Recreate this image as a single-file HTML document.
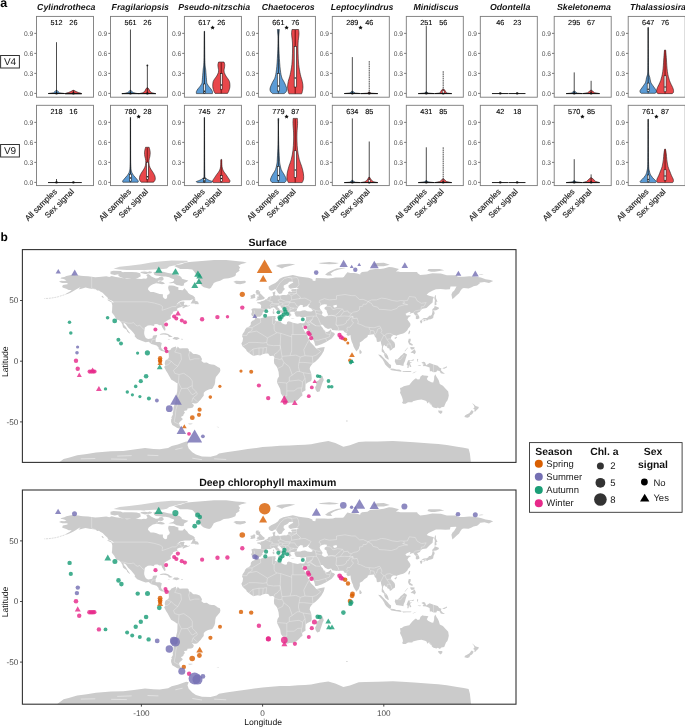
<!DOCTYPE html>
<html><head><meta charset="utf-8"><style>
html,body{margin:0;padding:0;background:#fff;width:685px;height:727px;overflow:hidden}
svg{display:block;will-change:transform;text-rendering:geometricPrecision;font-family:"Liberation Sans", sans-serif}
</style></head><body>
<svg width="685" height="727" viewBox="0 0 685 727">
<rect width="685" height="727" fill="#fff"/>
<text x="0.2" y="6.8" font-size="12.5" font-weight="bold" fill="#000">a</text>
<rect x="0.6" y="55.5" width="18.8" height="12.5" fill="#fff" stroke="#333" stroke-width="1"/>
<text x="10" y="64.8" font-size="10" text-anchor="middle" fill="#1a1a1a">V4</text>
<line x1="34.3" y1="93.40" x2="36.5" y2="93.40" stroke="#555" stroke-width="0.8"/>
<text x="33.3" y="95.80" font-size="6.7" text-anchor="end" fill="#555">0.0</text>
<line x1="34.3" y1="73.39" x2="36.5" y2="73.39" stroke="#555" stroke-width="0.8"/>
<text x="33.3" y="75.79" font-size="6.7" text-anchor="end" fill="#555">0.3</text>
<line x1="34.3" y1="53.38" x2="36.5" y2="53.38" stroke="#555" stroke-width="0.8"/>
<text x="33.3" y="55.78" font-size="6.7" text-anchor="end" fill="#555">0.6</text>
<line x1="34.3" y1="33.37" x2="36.5" y2="33.37" stroke="#555" stroke-width="0.8"/>
<text x="33.3" y="35.77" font-size="6.7" text-anchor="end" fill="#555">0.9</text>
<path d="M57.00,90.30 L58.00,91.50 L59.50,92.80 L64.70,93.50 L48.30,93.50 L53.50,92.80 L55.00,91.50 L56.00,90.30 Z" fill="#5b9bd5" stroke="#111" stroke-width="0.55" stroke-linejoin="round"/>
<line x1="48.30" y1="93.55" x2="64.70" y2="93.55" stroke="#111" stroke-width="0.95"/>
<line x1="56.50" y1="42.20" x2="56.50" y2="93.40" stroke="#111" stroke-width="0.75"/>
<ellipse cx="56.50" cy="93.40" rx="1.3" ry="1.1" fill="#111"/>
<path d="M73.90,90.30 L76.00,91.50 L78.40,92.50 L81.20,93.30 L81.70,94.00 L65.10,94.00 L65.60,93.30 L68.40,92.50 L70.80,91.50 L72.90,90.30 Z" fill="#e8474b" stroke="#111" stroke-width="0.55" stroke-linejoin="round"/>
<line x1="65.10" y1="93.55" x2="81.70" y2="93.55" stroke="#111" stroke-width="0.95"/>
<line x1="73.40" y1="90.30" x2="73.40" y2="93.40" stroke="#111" stroke-width="0.75"/>
<ellipse cx="73.40" cy="93.40" rx="1.3" ry="1.1" fill="#111"/>
<rect x="36.5" y="16.4" width="57.0" height="80.8" fill="none" stroke="#7a7a7a" stroke-width="0.9"/>
<text x="56.5" y="25.2" font-size="7.3" text-anchor="middle" fill="#000" stroke="#000" stroke-width="0.1">512</text>
<text x="73.4" y="25.2" font-size="7.3" text-anchor="middle" fill="#000" stroke="#000" stroke-width="0.1">26</text>
<line x1="108.3" y1="93.40" x2="110.5" y2="93.40" stroke="#555" stroke-width="0.8"/>
<text x="107.3" y="95.80" font-size="6.7" text-anchor="end" fill="#555">0.0</text>
<line x1="108.3" y1="73.39" x2="110.5" y2="73.39" stroke="#555" stroke-width="0.8"/>
<text x="107.3" y="75.79" font-size="6.7" text-anchor="end" fill="#555">0.3</text>
<line x1="108.3" y1="53.38" x2="110.5" y2="53.38" stroke="#555" stroke-width="0.8"/>
<text x="107.3" y="55.78" font-size="6.7" text-anchor="end" fill="#555">0.6</text>
<line x1="108.3" y1="33.37" x2="110.5" y2="33.37" stroke="#555" stroke-width="0.8"/>
<text x="107.3" y="35.77" font-size="6.7" text-anchor="end" fill="#555">0.9</text>
<path d="M130.96,90.30 L131.76,91.50 L133.26,92.60 L135.96,93.30 L139.06,93.70 L121.86,93.70 L124.96,93.30 L127.66,92.60 L129.16,91.50 L129.96,90.30 Z" fill="#5b9bd5" stroke="#111" stroke-width="0.55" stroke-linejoin="round"/>
<line x1="121.86" y1="93.55" x2="139.06" y2="93.55" stroke="#111" stroke-width="0.95"/>
<line x1="130.46" y1="29.50" x2="130.46" y2="93.40" stroke="#111" stroke-width="0.75"/>
<ellipse cx="130.46" cy="93.40" rx="1.3" ry="1.1" fill="#111"/>
<path d="M147.86,87.80 L148.86,89.00 L149.96,91.30 L151.86,92.70 L155.76,93.70 L138.96,93.70 L142.86,92.70 L144.76,91.30 L145.86,89.00 L146.86,87.80 Z" fill="#e8474b" stroke="#111" stroke-width="0.55" stroke-linejoin="round"/>
<line x1="138.96" y1="93.55" x2="155.76" y2="93.55" stroke="#111" stroke-width="0.95"/>
<line x1="147.36" y1="65.10" x2="147.36" y2="93.40" stroke="#111" stroke-width="0.75"/>
<ellipse cx="147.36" cy="93.40" rx="1.3" ry="1.1" fill="#111"/>
<circle cx="147.36" cy="65.40" r="0.9" fill="#222"/>
<rect x="110.5" y="16.4" width="57.0" height="80.8" fill="none" stroke="#7a7a7a" stroke-width="0.9"/>
<text x="130.5" y="25.2" font-size="7.3" text-anchor="middle" fill="#000" stroke="#000" stroke-width="0.1">561</text>
<text x="147.4" y="25.2" font-size="7.3" text-anchor="middle" fill="#000" stroke="#000" stroke-width="0.1">26</text>
<line x1="182.2" y1="93.40" x2="184.4" y2="93.40" stroke="#555" stroke-width="0.8"/>
<text x="181.2" y="95.80" font-size="6.7" text-anchor="end" fill="#555">0.0</text>
<line x1="182.2" y1="73.39" x2="184.4" y2="73.39" stroke="#555" stroke-width="0.8"/>
<text x="181.2" y="75.79" font-size="6.7" text-anchor="end" fill="#555">0.3</text>
<line x1="182.2" y1="53.38" x2="184.4" y2="53.38" stroke="#555" stroke-width="0.8"/>
<text x="181.2" y="55.78" font-size="6.7" text-anchor="end" fill="#555">0.6</text>
<line x1="182.2" y1="33.37" x2="184.4" y2="33.37" stroke="#555" stroke-width="0.8"/>
<text x="181.2" y="35.77" font-size="6.7" text-anchor="end" fill="#555">0.9</text>
<path d="M204.57,31.10 C204.62,35.98 204.68,53.90 204.87,60.40 C205.06,66.90 205.44,66.87 205.72,70.10 C206.00,73.33 206.30,77.58 206.52,79.80 C206.74,82.02 206.62,82.28 207.02,83.40 C207.42,84.52 208.29,85.60 208.92,86.50 C209.55,87.40 210.24,87.97 210.82,88.80 C211.40,89.63 212.15,90.70 212.42,91.50 C212.69,92.30 212.42,93.25 212.42,93.60 L196.42,93.60 C196.42,93.25 196.15,92.30 196.42,91.50 C196.69,90.70 197.44,89.63 198.02,88.80 C198.60,87.97 199.29,87.40 199.92,86.50 C200.55,85.60 201.42,84.52 201.82,83.40 C202.22,82.28 202.10,82.02 202.32,79.80 C202.54,77.58 202.84,73.33 203.12,70.10 C203.39,66.87 203.78,66.90 203.97,60.40 C204.16,53.90 204.22,35.98 204.27,31.10 Z" fill="#5b9bd5" stroke="#111" stroke-width="0.55" stroke-linejoin="round"/>
<line x1="204.42" y1="31.60" x2="204.42" y2="84.00" stroke="#111" stroke-opacity="0.9" stroke-width="0.8"/>
<line x1="204.42" y1="84.00" x2="204.42" y2="93.60" stroke="#111" stroke-opacity="0.8" stroke-width="0.7"/>
<rect x="203.67" y="84.00" width="1.50" height="9.00" fill="#fff" stroke="#111" stroke-width="0.55"/>
<circle cx="204.42" cy="91.20" r="0.75" fill="#111"/>
<path d="M224.02,62.00 C224.14,62.42 224.62,63.70 224.72,64.50 C224.82,65.30 224.72,65.97 224.62,66.80 C224.52,67.63 224.19,68.58 224.12,69.50 C224.05,70.42 223.92,71.22 224.22,72.30 C224.52,73.38 225.34,74.97 225.92,76.00 C226.50,77.03 227.14,77.60 227.72,78.50 C228.30,79.40 229.05,80.32 229.42,81.40 C229.79,82.48 229.87,83.90 229.92,85.00 C229.97,86.10 229.94,86.92 229.72,88.00 C229.50,89.08 228.99,90.60 228.62,91.50 C228.25,92.40 227.70,93.08 227.52,93.40 L215.12,93.40 C214.94,93.08 214.39,92.40 214.02,91.50 C213.65,90.60 213.14,89.08 212.92,88.00 C212.70,86.92 212.67,86.10 212.72,85.00 C212.77,83.90 212.85,82.48 213.22,81.40 C213.59,80.32 214.34,79.40 214.92,78.50 C215.50,77.60 216.14,77.03 216.72,76.00 C217.30,74.97 218.12,73.38 218.42,72.30 C218.72,71.22 218.59,70.42 218.52,69.50 C218.45,68.58 218.12,67.63 218.02,66.80 C217.92,65.97 217.82,65.30 217.92,64.50 C218.02,63.70 218.50,62.42 218.62,62.00 Z" fill="#e8474b" stroke="#111" stroke-width="0.55" stroke-linejoin="round"/>
<line x1="221.32" y1="62.50" x2="221.32" y2="93.40" stroke="#7a1515" stroke-opacity="0.75" stroke-width="1.5"/>
<rect x="220.47" y="73.70" width="1.70" height="15.50" fill="#fff" stroke="#111" stroke-width="0.55"/>
<circle cx="221.32" cy="85.10" r="0.75" fill="#111"/>
<rect x="184.4" y="16.4" width="57.0" height="80.8" fill="none" stroke="#7a7a7a" stroke-width="0.9"/>
<text x="204.4" y="25.2" font-size="7.3" text-anchor="middle" fill="#000" stroke="#000" stroke-width="0.1">617</text>
<text x="221.3" y="25.2" font-size="7.3" text-anchor="middle" fill="#000" stroke="#000" stroke-width="0.1">26</text>
<polygon points="212.62,25.40 213.30,26.77 214.81,26.99 213.71,28.06 213.97,29.56 212.62,28.85 211.27,29.56 211.53,28.06 210.43,26.99 211.94,26.77" fill="#111"/>
<line x1="256.2" y1="93.40" x2="258.4" y2="93.40" stroke="#555" stroke-width="0.8"/>
<text x="255.2" y="95.80" font-size="6.7" text-anchor="end" fill="#555">0.0</text>
<line x1="256.2" y1="73.39" x2="258.4" y2="73.39" stroke="#555" stroke-width="0.8"/>
<text x="255.2" y="75.79" font-size="6.7" text-anchor="end" fill="#555">0.3</text>
<line x1="256.2" y1="53.38" x2="258.4" y2="53.38" stroke="#555" stroke-width="0.8"/>
<text x="255.2" y="55.78" font-size="6.7" text-anchor="end" fill="#555">0.6</text>
<line x1="256.2" y1="33.37" x2="258.4" y2="33.37" stroke="#555" stroke-width="0.8"/>
<text x="255.2" y="35.77" font-size="6.7" text-anchor="end" fill="#555">0.9</text>
<path d="M279.38,29.50 C279.32,30.08 279.15,31.50 279.03,33.00 C278.91,34.50 278.70,35.70 278.68,38.50 C278.66,41.30 278.71,45.10 278.93,49.80 C279.15,54.50 279.54,62.18 279.98,66.70 C280.42,71.22 280.85,74.27 281.58,76.90 C282.31,79.53 283.53,80.62 284.38,82.50 C285.23,84.38 286.36,86.70 286.68,88.20 C287.00,89.70 286.70,90.60 286.28,91.50 C285.86,92.40 284.53,93.25 284.18,93.60 L272.58,93.60 C272.23,93.25 270.90,92.40 270.48,91.50 C270.06,90.60 269.76,89.70 270.08,88.20 C270.40,86.70 271.53,84.38 272.38,82.50 C273.23,80.62 274.45,79.53 275.18,76.90 C275.91,74.27 276.34,71.22 276.78,66.70 C277.22,62.18 277.61,54.50 277.83,49.80 C278.05,45.10 278.10,41.30 278.08,38.50 C278.06,35.70 277.85,34.50 277.73,33.00 C277.61,31.50 277.44,30.08 277.38,29.50 Z" fill="#5b9bd5" stroke="#111" stroke-width="0.55" stroke-linejoin="round"/>
<line x1="278.38" y1="30.00" x2="278.38" y2="73.50" stroke="#111" stroke-opacity="0.9" stroke-width="0.8"/>
<line x1="278.38" y1="73.50" x2="278.38" y2="93.60" stroke="#111" stroke-opacity="0.8" stroke-width="0.7"/>
<rect x="277.28" y="73.50" width="2.20" height="17.50" fill="#fff" stroke="#111" stroke-width="0.55"/>
<circle cx="278.38" cy="86.00" r="0.75" fill="#111"/>
<path d="M298.58,29.50 C298.65,30.25 299.06,31.75 298.98,34.00 C298.90,36.25 298.23,39.80 298.08,43.00 C297.93,46.20 297.98,49.62 298.08,53.20 C298.18,56.78 298.30,60.93 298.68,64.50 C299.06,68.07 299.78,71.78 300.38,74.60 C300.98,77.42 301.85,79.33 302.28,81.40 C302.71,83.47 303.01,85.12 302.98,87.00 C302.95,88.88 302.33,91.57 302.08,92.70 C301.83,93.83 301.58,93.62 301.48,93.80 L289.08,93.80 C288.98,93.62 288.73,93.83 288.48,92.70 C288.23,91.57 287.61,88.88 287.58,87.00 C287.55,85.12 287.85,83.47 288.28,81.40 C288.71,79.33 289.58,77.42 290.18,74.60 C290.78,71.78 291.50,68.07 291.88,64.50 C292.26,60.93 292.38,56.78 292.48,53.20 C292.58,49.62 292.63,46.20 292.48,43.00 C292.33,39.80 291.66,36.25 291.58,34.00 C291.50,31.75 291.91,30.25 291.98,29.50 Z" fill="#e8474b" stroke="#111" stroke-width="0.55" stroke-linejoin="round"/>
<line x1="295.28" y1="30.00" x2="295.28" y2="93.80" stroke="#7a1515" stroke-opacity="0.75" stroke-width="1.5"/>
<rect x="294.18" y="46.40" width="2.20" height="40.60" fill="#fff" stroke="#111" stroke-width="0.55"/>
<circle cx="295.28" cy="78.00" r="0.75" fill="#111"/>
<rect x="258.4" y="16.4" width="57.0" height="80.8" fill="none" stroke="#7a7a7a" stroke-width="0.9"/>
<text x="278.4" y="25.2" font-size="7.3" text-anchor="middle" fill="#000" stroke="#000" stroke-width="0.1">661</text>
<text x="295.3" y="25.2" font-size="7.3" text-anchor="middle" fill="#000" stroke="#000" stroke-width="0.1">76</text>
<polygon points="286.58,25.40 287.26,26.77 288.77,26.99 287.67,28.06 287.93,29.56 286.58,28.85 285.23,29.56 285.49,28.06 284.39,26.99 285.90,26.77" fill="#111"/>
<line x1="330.1" y1="93.40" x2="332.3" y2="93.40" stroke="#555" stroke-width="0.8"/>
<text x="329.1" y="95.80" font-size="6.7" text-anchor="end" fill="#555">0.0</text>
<line x1="330.1" y1="73.39" x2="332.3" y2="73.39" stroke="#555" stroke-width="0.8"/>
<text x="329.1" y="75.79" font-size="6.7" text-anchor="end" fill="#555">0.3</text>
<line x1="330.1" y1="53.38" x2="332.3" y2="53.38" stroke="#555" stroke-width="0.8"/>
<text x="329.1" y="55.78" font-size="6.7" text-anchor="end" fill="#555">0.6</text>
<line x1="330.1" y1="33.37" x2="332.3" y2="33.37" stroke="#555" stroke-width="0.8"/>
<text x="329.1" y="35.77" font-size="6.7" text-anchor="end" fill="#555">0.9</text>
<path d="M352.84,91.10 L353.84,92.30 L355.34,93.00 L360.34,93.50 L344.34,93.50 L349.34,93.00 L350.84,92.30 L351.84,91.10 Z" fill="#5b9bd5" stroke="#111" stroke-width="0.55" stroke-linejoin="round"/>
<line x1="344.34" y1="93.55" x2="360.34" y2="93.55" stroke="#111" stroke-width="0.95"/>
<line x1="352.34" y1="57.10" x2="352.34" y2="93.40" stroke="#111" stroke-width="0.75"/>
<ellipse cx="352.34" cy="93.40" rx="1.3" ry="1.1" fill="#111"/>
<path d="M369.74,91.90 L370.74,93.10 L377.74,93.60 L360.74,93.60 L367.74,93.10 L368.74,91.90 Z" fill="#e8474b" stroke="#111" stroke-width="0.55" stroke-linejoin="round"/>
<line x1="360.74" y1="93.55" x2="377.74" y2="93.55" stroke="#111" stroke-width="0.95"/>
<line x1="369.24" y1="61.10" x2="369.24" y2="93.40" stroke="#3a3a3a" stroke-width="0.9" stroke-dasharray="1.6 0.6"/>
<ellipse cx="369.24" cy="93.40" rx="1.3" ry="1.1" fill="#111"/>
<rect x="332.3" y="16.4" width="57.0" height="80.8" fill="none" stroke="#7a7a7a" stroke-width="0.9"/>
<text x="352.3" y="25.2" font-size="7.3" text-anchor="middle" fill="#000" stroke="#000" stroke-width="0.1">289</text>
<text x="369.2" y="25.2" font-size="7.3" text-anchor="middle" fill="#000" stroke="#000" stroke-width="0.1">46</text>
<polygon points="360.54,25.40 361.22,26.77 362.73,26.99 361.63,28.06 361.89,29.56 360.54,28.85 359.19,29.56 359.45,28.06 358.35,26.99 359.86,26.77" fill="#111"/>
<line x1="404.1" y1="93.40" x2="406.3" y2="93.40" stroke="#555" stroke-width="0.8"/>
<text x="403.1" y="95.80" font-size="6.7" text-anchor="end" fill="#555">0.0</text>
<line x1="404.1" y1="73.39" x2="406.3" y2="73.39" stroke="#555" stroke-width="0.8"/>
<text x="403.1" y="75.79" font-size="6.7" text-anchor="end" fill="#555">0.3</text>
<line x1="404.1" y1="53.38" x2="406.3" y2="53.38" stroke="#555" stroke-width="0.8"/>
<text x="403.1" y="55.78" font-size="6.7" text-anchor="end" fill="#555">0.6</text>
<line x1="404.1" y1="33.37" x2="406.3" y2="33.37" stroke="#555" stroke-width="0.8"/>
<text x="403.1" y="35.77" font-size="6.7" text-anchor="end" fill="#555">0.9</text>
<path d="M426.80,91.80 L427.80,93.00 L434.30,93.60 L418.30,93.60 L424.80,93.00 L425.80,91.80 Z" fill="#5b9bd5" stroke="#111" stroke-width="0.55" stroke-linejoin="round"/>
<line x1="418.30" y1="93.55" x2="434.30" y2="93.55" stroke="#111" stroke-width="0.95"/>
<line x1="426.30" y1="26.10" x2="426.30" y2="93.40" stroke="#111" stroke-width="0.75"/>
<ellipse cx="426.30" cy="93.40" rx="1.3" ry="1.1" fill="#111"/>
<path d="M443.70,89.10 L445.00,90.30 L445.80,91.80 L446.70,93.00 L451.70,93.60 L434.70,93.60 L439.70,93.00 L440.60,91.80 L441.40,90.30 L442.70,89.10 Z" fill="#e8474b" stroke="#111" stroke-width="0.55" stroke-linejoin="round"/>
<line x1="434.70" y1="93.55" x2="451.70" y2="93.55" stroke="#111" stroke-width="0.95"/>
<line x1="443.20" y1="71.20" x2="443.20" y2="93.40" stroke="#3a3a3a" stroke-width="0.9" stroke-dasharray="1.6 0.6"/>
<ellipse cx="443.20" cy="93.40" rx="1.3" ry="1.1" fill="#111"/>
<rect x="442.30" y="90.80" width="1.8" height="2.2" fill="#fff" stroke="#111" stroke-width="0.4"/>
<rect x="406.3" y="16.4" width="57.0" height="80.8" fill="none" stroke="#7a7a7a" stroke-width="0.9"/>
<text x="426.3" y="25.2" font-size="7.3" text-anchor="middle" fill="#000" stroke="#000" stroke-width="0.1">251</text>
<text x="443.2" y="25.2" font-size="7.3" text-anchor="middle" fill="#000" stroke="#000" stroke-width="0.1">56</text>
<line x1="478.1" y1="93.40" x2="480.3" y2="93.40" stroke="#555" stroke-width="0.8"/>
<text x="477.1" y="95.80" font-size="6.7" text-anchor="end" fill="#555">0.0</text>
<line x1="478.1" y1="73.39" x2="480.3" y2="73.39" stroke="#555" stroke-width="0.8"/>
<text x="477.1" y="75.79" font-size="6.7" text-anchor="end" fill="#555">0.3</text>
<line x1="478.1" y1="53.38" x2="480.3" y2="53.38" stroke="#555" stroke-width="0.8"/>
<text x="477.1" y="55.78" font-size="6.7" text-anchor="end" fill="#555">0.6</text>
<line x1="478.1" y1="33.37" x2="480.3" y2="33.37" stroke="#555" stroke-width="0.8"/>
<text x="477.1" y="35.77" font-size="6.7" text-anchor="end" fill="#555">0.9</text>
<line x1="491.96" y1="93.55" x2="508.56" y2="93.55" stroke="#111" stroke-width="0.95"/>
<line x1="500.26" y1="93.00" x2="500.26" y2="93.40" stroke="#111" stroke-width="0.75"/>
<ellipse cx="500.26" cy="93.40" rx="1.3" ry="1.1" fill="#111"/>
<line x1="508.86" y1="93.55" x2="525.46" y2="93.55" stroke="#111" stroke-width="0.95"/>
<line x1="517.16" y1="93.00" x2="517.16" y2="93.40" stroke="#111" stroke-width="0.75"/>
<ellipse cx="517.16" cy="93.40" rx="1.3" ry="1.1" fill="#111"/>
<rect x="480.3" y="16.4" width="57.0" height="80.8" fill="none" stroke="#7a7a7a" stroke-width="0.9"/>
<text x="500.3" y="25.2" font-size="7.3" text-anchor="middle" fill="#000" stroke="#000" stroke-width="0.1">46</text>
<text x="517.2" y="25.2" font-size="7.3" text-anchor="middle" fill="#000" stroke="#000" stroke-width="0.1">23</text>
<line x1="552.0" y1="93.40" x2="554.2" y2="93.40" stroke="#555" stroke-width="0.8"/>
<text x="551.0" y="95.80" font-size="6.7" text-anchor="end" fill="#555">0.0</text>
<line x1="552.0" y1="73.39" x2="554.2" y2="73.39" stroke="#555" stroke-width="0.8"/>
<text x="551.0" y="75.79" font-size="6.7" text-anchor="end" fill="#555">0.3</text>
<line x1="552.0" y1="53.38" x2="554.2" y2="53.38" stroke="#555" stroke-width="0.8"/>
<text x="551.0" y="55.78" font-size="6.7" text-anchor="end" fill="#555">0.6</text>
<line x1="552.0" y1="33.37" x2="554.2" y2="33.37" stroke="#555" stroke-width="0.8"/>
<text x="551.0" y="35.77" font-size="6.7" text-anchor="end" fill="#555">0.9</text>
<path d="M574.72,91.00 L575.72,92.20 L577.22,93.10 L582.22,93.60 L566.22,93.60 L571.22,93.10 L572.72,92.20 L573.72,91.00 Z" fill="#5b9bd5" stroke="#111" stroke-width="0.55" stroke-linejoin="round"/>
<line x1="566.22" y1="93.55" x2="582.22" y2="93.55" stroke="#111" stroke-width="0.95"/>
<line x1="574.22" y1="72.40" x2="574.22" y2="93.40" stroke="#111" stroke-width="0.75"/>
<ellipse cx="574.22" cy="93.40" rx="1.3" ry="1.1" fill="#111"/>
<path d="M591.62,90.30 L593.12,91.50 L594.62,92.70 L599.62,93.60 L582.62,93.60 L587.62,92.70 L589.12,91.50 L590.62,90.30 Z" fill="#e8474b" stroke="#111" stroke-width="0.55" stroke-linejoin="round"/>
<line x1="582.62" y1="93.55" x2="599.62" y2="93.55" stroke="#111" stroke-width="0.95"/>
<line x1="591.12" y1="80.80" x2="591.12" y2="93.40" stroke="#111" stroke-width="0.75"/>
<ellipse cx="591.12" cy="93.40" rx="1.3" ry="1.1" fill="#111"/>
<rect x="554.2" y="16.4" width="57.0" height="80.8" fill="none" stroke="#7a7a7a" stroke-width="0.9"/>
<text x="574.2" y="25.2" font-size="7.3" text-anchor="middle" fill="#000" stroke="#000" stroke-width="0.1">295</text>
<text x="591.1" y="25.2" font-size="7.3" text-anchor="middle" fill="#000" stroke="#000" stroke-width="0.1">67</text>
<line x1="626.0" y1="93.40" x2="628.2" y2="93.40" stroke="#555" stroke-width="0.8"/>
<text x="625.0" y="95.80" font-size="6.7" text-anchor="end" fill="#555">0.0</text>
<line x1="626.0" y1="73.39" x2="628.2" y2="73.39" stroke="#555" stroke-width="0.8"/>
<text x="625.0" y="75.79" font-size="6.7" text-anchor="end" fill="#555">0.3</text>
<line x1="626.0" y1="53.38" x2="628.2" y2="53.38" stroke="#555" stroke-width="0.8"/>
<text x="625.0" y="55.78" font-size="6.7" text-anchor="end" fill="#555">0.6</text>
<line x1="626.0" y1="33.37" x2="628.2" y2="33.37" stroke="#555" stroke-width="0.8"/>
<text x="625.0" y="35.77" font-size="6.7" text-anchor="end" fill="#555">0.9</text>
<path d="M648.30,27.25 C648.30,30.76 648.28,42.84 648.30,48.30 C648.32,53.76 648.37,56.39 648.40,60.00 C648.43,63.61 648.43,67.50 648.51,69.94 C648.59,72.38 648.65,73.35 648.87,74.62 C649.09,75.89 649.51,76.27 649.82,77.54 C650.13,78.81 650.29,80.95 650.75,82.22 C651.21,83.49 651.93,84.18 652.57,85.15 C653.21,86.12 654.00,87.19 654.61,88.07 C655.22,88.95 655.98,89.73 656.25,90.41 C656.52,91.09 656.45,91.67 656.25,92.16 C656.05,92.65 655.27,93.13 655.08,93.33 L641.28,93.33 C641.08,93.13 640.30,92.65 640.11,92.16 C639.91,91.67 639.84,91.09 640.11,90.41 C640.38,89.73 641.14,88.95 641.75,88.07 C642.36,87.19 643.15,86.12 643.79,85.15 C644.43,84.18 645.15,83.49 645.61,82.22 C646.07,80.95 646.23,78.81 646.54,77.54 C646.85,76.27 647.27,75.89 647.49,74.62 C647.71,73.35 647.77,72.38 647.85,69.94 C647.93,67.50 647.92,63.61 647.96,60.00 C647.99,56.39 648.04,53.76 648.06,48.30 C648.08,42.84 648.06,30.76 648.06,27.25 Z" fill="#5b9bd5" stroke="#111" stroke-width="0.55" stroke-linejoin="round"/>
<line x1="648.18" y1="27.75" x2="648.18" y2="83.10" stroke="#111" stroke-opacity="0.9" stroke-width="0.8"/>
<line x1="648.18" y1="83.10" x2="648.18" y2="93.33" stroke="#111" stroke-opacity="0.8" stroke-width="0.7"/>
<rect x="647.18" y="83.10" width="2.00" height="8.20" fill="#fff" stroke="#111" stroke-width="0.55"/>
<circle cx="648.18" cy="89.30" r="0.75" fill="#111"/>
<path d="M665.65,50.06 C665.73,50.94 665.99,53.66 666.13,55.32 C666.27,56.98 666.36,58.25 666.48,60.00 C666.60,61.75 666.67,63.90 666.83,65.85 C666.99,67.80 667.17,69.95 667.42,71.70 C667.66,73.45 667.96,74.91 668.30,76.37 C668.64,77.83 668.98,79.11 669.47,80.47 C669.96,81.83 670.68,83.39 671.22,84.56 C671.75,85.73 672.29,86.52 672.68,87.49 C673.07,88.46 673.46,89.53 673.56,90.41 C673.66,91.29 673.51,92.21 673.27,92.75 C673.03,93.29 672.29,93.48 672.10,93.63 L658.06,93.63 C657.86,93.48 657.13,93.29 656.89,92.75 C656.65,92.21 656.50,91.29 656.60,90.41 C656.70,89.53 657.09,88.46 657.48,87.49 C657.87,86.52 658.40,85.73 658.94,84.56 C659.47,83.39 660.20,81.83 660.69,80.47 C661.18,79.11 661.52,77.83 661.86,76.37 C662.20,74.91 662.49,73.45 662.74,71.70 C662.98,69.95 663.17,67.80 663.33,65.85 C663.49,63.90 663.56,61.75 663.68,60.00 C663.80,58.25 663.89,56.98 664.03,55.32 C664.17,53.66 664.43,50.94 664.51,50.06 Z" fill="#e8474b" stroke="#111" stroke-width="0.55" stroke-linejoin="round"/>
<line x1="665.08" y1="50.56" x2="665.08" y2="93.63" stroke="#7a1515" stroke-opacity="0.75" stroke-width="1.5"/>
<rect x="664.08" y="75.80" width="2.00" height="15.80" fill="#fff" stroke="#111" stroke-width="0.55"/>
<circle cx="665.08" cy="86.90" r="0.75" fill="#111"/>
<rect x="628.2" y="16.4" width="57.0" height="80.8" fill="none" stroke="#7a7a7a" stroke-width="0.9"/>
<text x="648.2" y="25.2" font-size="7.3" text-anchor="middle" fill="#000" stroke="#000" stroke-width="0.1">647</text>
<text x="665.1" y="25.2" font-size="7.3" text-anchor="middle" fill="#000" stroke="#000" stroke-width="0.1">76</text>
<rect x="0.6" y="144.5" width="18.8" height="12.5" fill="#fff" stroke="#333" stroke-width="1"/>
<text x="10" y="153.8" font-size="10" text-anchor="middle" fill="#1a1a1a">V9</text>
<line x1="34.3" y1="182.40" x2="36.5" y2="182.40" stroke="#555" stroke-width="0.8"/>
<text x="33.3" y="184.80" font-size="6.7" text-anchor="end" fill="#555">0.0</text>
<line x1="34.3" y1="162.39" x2="36.5" y2="162.39" stroke="#555" stroke-width="0.8"/>
<text x="33.3" y="164.79" font-size="6.7" text-anchor="end" fill="#555">0.3</text>
<line x1="34.3" y1="142.38" x2="36.5" y2="142.38" stroke="#555" stroke-width="0.8"/>
<text x="33.3" y="144.78" font-size="6.7" text-anchor="end" fill="#555">0.6</text>
<line x1="34.3" y1="122.37" x2="36.5" y2="122.37" stroke="#555" stroke-width="0.8"/>
<text x="33.3" y="124.77" font-size="6.7" text-anchor="end" fill="#555">0.9</text>
<line x1="48.00" y1="182.55" x2="65.00" y2="182.55" stroke="#111" stroke-width="0.95"/>
<line x1="56.50" y1="179.00" x2="56.50" y2="182.40" stroke="#111" stroke-width="0.75"/>
<ellipse cx="56.50" cy="182.40" rx="1.3" ry="1.1" fill="#111"/>
<line x1="65.00" y1="182.55" x2="81.80" y2="182.55" stroke="#111" stroke-width="0.95"/>
<line x1="73.40" y1="182.00" x2="73.40" y2="182.40" stroke="#111" stroke-width="0.75"/>
<ellipse cx="73.40" cy="182.40" rx="1.3" ry="1.1" fill="#111"/>
<rect x="36.5" y="105.3" width="57.0" height="80.3" fill="none" stroke="#7a7a7a" stroke-width="0.9"/>
<text x="56.5" y="114.2" font-size="7.3" text-anchor="middle" fill="#000" stroke="#000" stroke-width="0.1">218</text>
<text x="73.4" y="114.2" font-size="7.3" text-anchor="middle" fill="#000" stroke="#000" stroke-width="0.1">16</text>
<line x1="108.3" y1="182.40" x2="110.5" y2="182.40" stroke="#555" stroke-width="0.8"/>
<text x="107.3" y="184.80" font-size="6.7" text-anchor="end" fill="#555">0.0</text>
<line x1="108.3" y1="162.39" x2="110.5" y2="162.39" stroke="#555" stroke-width="0.8"/>
<text x="107.3" y="164.79" font-size="6.7" text-anchor="end" fill="#555">0.3</text>
<line x1="108.3" y1="142.38" x2="110.5" y2="142.38" stroke="#555" stroke-width="0.8"/>
<text x="107.3" y="144.78" font-size="6.7" text-anchor="end" fill="#555">0.6</text>
<line x1="108.3" y1="122.37" x2="110.5" y2="122.37" stroke="#555" stroke-width="0.8"/>
<text x="107.3" y="124.77" font-size="6.7" text-anchor="end" fill="#555">0.9</text>
<path d="M130.58,117.22 C130.58,121.02 130.58,133.04 130.59,140.00 C130.60,146.96 130.59,154.24 130.65,158.99 C130.71,163.74 130.81,166.37 130.97,168.48 C131.13,170.59 131.42,170.91 131.60,171.65 C131.78,172.39 131.70,172.28 132.04,172.91 C132.38,173.54 132.99,174.60 133.62,175.44 C134.25,176.28 135.21,177.23 135.84,177.97 C136.47,178.71 137.00,179.34 137.42,179.87 C137.84,180.40 138.26,180.75 138.37,181.14 C138.47,181.53 138.10,182.04 138.05,182.22 L122.87,182.22 C122.82,182.04 122.44,181.53 122.55,181.14 C122.65,180.75 123.08,180.40 123.50,179.87 C123.92,179.34 124.45,178.71 125.08,177.97 C125.71,177.23 126.67,176.28 127.30,175.44 C127.93,174.60 128.54,173.54 128.88,172.91 C129.22,172.28 129.14,172.39 129.32,171.65 C129.50,170.91 129.79,170.59 129.95,168.48 C130.11,166.37 130.21,163.74 130.27,158.99 C130.33,154.24 130.32,146.96 130.33,140.00 C130.34,133.04 130.34,121.02 130.34,117.22 Z" fill="#5b9bd5" stroke="#111" stroke-width="0.55" stroke-linejoin="round"/>
<line x1="130.46" y1="117.72" x2="130.46" y2="174.20" stroke="#111" stroke-opacity="0.9" stroke-width="0.8"/>
<line x1="130.46" y1="174.20" x2="130.46" y2="182.22" stroke="#111" stroke-opacity="0.8" stroke-width="0.7"/>
<rect x="129.56" y="174.20" width="1.80" height="6.90" fill="#fff" stroke="#111" stroke-width="0.55"/>
<circle cx="130.46" cy="178.00" r="0.75" fill="#111"/>
<path d="M149.13,147.28 C149.26,147.75 149.71,149.23 149.89,150.13 C150.07,151.03 150.21,151.60 150.21,152.66 C150.21,153.72 150.09,155.19 149.89,156.46 C149.69,157.73 149.11,158.77 149.01,160.25 C148.91,161.73 148.95,163.84 149.26,165.32 C149.56,166.80 150.15,167.85 150.84,169.11 C151.52,170.38 152.68,171.75 153.37,172.91 C154.05,174.07 154.63,175.03 154.95,176.08 C155.27,177.14 155.35,178.40 155.27,179.24 C155.19,180.08 154.77,180.64 154.45,181.14 C154.13,181.64 153.55,182.04 153.37,182.22 L141.35,182.22 C141.17,182.04 140.59,181.64 140.27,181.14 C139.95,180.64 139.53,180.08 139.45,179.24 C139.37,178.40 139.45,177.14 139.77,176.08 C140.09,175.03 140.66,174.07 141.35,172.91 C142.03,171.75 143.19,170.38 143.88,169.11 C144.56,167.85 145.15,166.80 145.46,165.32 C145.76,163.84 145.81,161.73 145.71,160.25 C145.60,158.77 145.03,157.73 144.83,156.46 C144.63,155.19 144.51,153.72 144.51,152.66 C144.51,151.60 144.65,151.03 144.83,150.13 C145.01,149.23 145.46,147.75 145.59,147.28 Z" fill="#e8474b" stroke="#111" stroke-width="0.55" stroke-linejoin="round"/>
<line x1="147.36" y1="147.78" x2="147.36" y2="182.22" stroke="#7a1515" stroke-opacity="0.75" stroke-width="1.5"/>
<rect x="146.46" y="162.20" width="1.80" height="17.00" fill="#fff" stroke="#111" stroke-width="0.55"/>
<circle cx="147.36" cy="176.70" r="0.75" fill="#111"/>
<rect x="110.5" y="105.3" width="57.0" height="80.3" fill="none" stroke="#7a7a7a" stroke-width="0.9"/>
<text x="130.5" y="114.2" font-size="7.3" text-anchor="middle" fill="#000" stroke="#000" stroke-width="0.1">780</text>
<text x="147.4" y="114.2" font-size="7.3" text-anchor="middle" fill="#000" stroke="#000" stroke-width="0.1">28</text>
<polygon points="138.66,114.40 139.34,115.77 140.85,115.99 139.75,117.06 140.01,118.56 138.66,117.85 137.31,118.56 137.57,117.06 136.47,115.99 137.98,115.77" fill="#111"/>
<line x1="182.2" y1="182.40" x2="184.4" y2="182.40" stroke="#555" stroke-width="0.8"/>
<text x="181.2" y="184.80" font-size="6.7" text-anchor="end" fill="#555">0.0</text>
<line x1="182.2" y1="162.39" x2="184.4" y2="162.39" stroke="#555" stroke-width="0.8"/>
<text x="181.2" y="164.79" font-size="6.7" text-anchor="end" fill="#555">0.3</text>
<line x1="182.2" y1="142.38" x2="184.4" y2="142.38" stroke="#555" stroke-width="0.8"/>
<text x="181.2" y="144.78" font-size="6.7" text-anchor="end" fill="#555">0.6</text>
<line x1="182.2" y1="122.37" x2="184.4" y2="122.37" stroke="#555" stroke-width="0.8"/>
<text x="181.2" y="124.77" font-size="6.7" text-anchor="end" fill="#555">0.9</text>
<path d="M204.54,117.30 C204.58,126.63 204.59,163.20 204.77,173.30 C204.95,183.40 204.91,176.75 205.62,177.90 C206.33,179.05 207.87,179.58 209.02,180.20 C210.17,180.82 212.12,181.20 212.52,181.60 C212.92,182.00 211.60,182.43 211.42,182.60 L197.42,182.60 C197.24,182.43 195.92,182.00 196.32,181.60 C196.72,181.20 198.67,180.82 199.82,180.20 C200.97,179.58 202.51,179.05 203.22,177.90 C203.93,176.75 203.89,183.40 204.07,173.30 C204.25,163.20 204.26,126.63 204.30,117.30 Z" fill="#5b9bd5" stroke="#111" stroke-width="0.55" stroke-linejoin="round"/>
<line x1="204.42" y1="117.80" x2="204.42" y2="178.50" stroke="#111" stroke-opacity="0.9" stroke-width="0.8"/>
<line x1="204.42" y1="178.50" x2="204.42" y2="182.60" stroke="#111" stroke-opacity="0.8" stroke-width="0.7"/>
<rect x="203.72" y="178.50" width="1.40" height="3.50" fill="#fff" stroke="#111" stroke-width="0.55"/>
<circle cx="204.42" cy="181.00" r="0.75" fill="#111"/>
<path d="M221.67,159.40 C221.72,160.57 221.68,164.47 221.97,166.40 C222.26,168.33 222.76,169.67 223.42,171.00 C224.08,172.33 225.12,173.25 225.92,174.40 C226.72,175.55 227.54,176.83 228.22,177.90 C228.90,178.97 229.82,180.02 230.02,180.80 C230.22,181.58 229.52,182.30 229.42,182.60 L213.22,182.60 C213.12,182.30 212.42,181.58 212.62,180.80 C212.82,180.02 213.74,178.97 214.42,177.90 C215.10,176.83 215.92,175.55 216.72,174.40 C217.52,173.25 218.56,172.33 219.22,171.00 C219.88,169.67 220.38,168.33 220.67,166.40 C220.96,164.47 220.92,160.57 220.97,159.40 Z" fill="#e8474b" stroke="#111" stroke-width="0.55" stroke-linejoin="round"/>
<line x1="221.32" y1="159.90" x2="221.32" y2="182.60" stroke="#7a1515" stroke-opacity="0.75" stroke-width="1.5"/>
<rect x="220.42" y="175.60" width="1.80" height="5.80" fill="#fff" stroke="#111" stroke-width="0.55"/>
<circle cx="221.32" cy="178.50" r="0.75" fill="#111"/>
<rect x="184.4" y="105.3" width="57.0" height="80.3" fill="none" stroke="#7a7a7a" stroke-width="0.9"/>
<text x="204.4" y="114.2" font-size="7.3" text-anchor="middle" fill="#000" stroke="#000" stroke-width="0.1">745</text>
<text x="221.3" y="114.2" font-size="7.3" text-anchor="middle" fill="#000" stroke="#000" stroke-width="0.1">27</text>
<line x1="256.2" y1="182.40" x2="258.4" y2="182.40" stroke="#555" stroke-width="0.8"/>
<text x="255.2" y="184.80" font-size="6.7" text-anchor="end" fill="#555">0.0</text>
<line x1="256.2" y1="162.39" x2="258.4" y2="162.39" stroke="#555" stroke-width="0.8"/>
<text x="255.2" y="164.79" font-size="6.7" text-anchor="end" fill="#555">0.3</text>
<line x1="256.2" y1="142.38" x2="258.4" y2="142.38" stroke="#555" stroke-width="0.8"/>
<text x="255.2" y="144.78" font-size="6.7" text-anchor="end" fill="#555">0.6</text>
<line x1="256.2" y1="122.37" x2="258.4" y2="122.37" stroke="#555" stroke-width="0.8"/>
<text x="255.2" y="124.77" font-size="6.7" text-anchor="end" fill="#555">0.9</text>
<path d="M278.73,118.40 C278.69,119.85 278.50,122.77 278.50,127.10 C278.50,131.43 278.58,139.25 278.73,144.40 C278.88,149.55 279.19,154.77 279.38,158.00 C279.57,161.23 279.56,161.85 279.88,163.80 C280.20,165.75 280.66,168.07 281.28,169.70 C281.90,171.33 282.85,172.30 283.58,173.60 C284.31,174.90 285.23,176.37 285.68,177.50 C286.13,178.63 286.43,179.57 286.28,180.40 C286.13,181.23 285.03,182.15 284.78,182.50 L271.98,182.50 C271.73,182.15 270.63,181.23 270.48,180.40 C270.33,179.57 270.63,178.63 271.08,177.50 C271.53,176.37 272.45,174.90 273.18,173.60 C273.91,172.30 274.86,171.33 275.48,169.70 C276.10,168.07 276.56,165.75 276.88,163.80 C277.20,161.85 277.19,161.23 277.38,158.00 C277.57,154.77 277.88,149.55 278.03,144.40 C278.18,139.25 278.26,131.43 278.26,127.10 C278.26,122.77 278.07,119.85 278.03,118.40 Z" fill="#5b9bd5" stroke="#111" stroke-width="0.55" stroke-linejoin="round"/>
<line x1="278.38" y1="118.90" x2="278.38" y2="166.40" stroke="#111" stroke-opacity="0.9" stroke-width="0.8"/>
<line x1="278.38" y1="166.40" x2="278.38" y2="182.50" stroke="#111" stroke-opacity="0.8" stroke-width="0.7"/>
<rect x="277.38" y="166.40" width="2.00" height="13.80" fill="#fff" stroke="#111" stroke-width="0.55"/>
<circle cx="278.38" cy="175.60" r="0.75" fill="#111"/>
<path d="M297.38,118.40 C297.41,119.27 297.65,121.18 297.58,123.60 C297.51,126.02 297.08,130.00 296.98,132.90 C296.88,135.80 296.88,138.12 296.98,141.00 C297.08,143.88 297.20,147.13 297.58,150.20 C297.96,153.27 298.60,156.70 299.28,159.40 C299.96,162.10 301.00,164.08 301.68,166.40 C302.36,168.72 303.06,171.18 303.38,173.30 C303.70,175.42 303.78,177.55 303.58,179.10 C303.38,180.65 302.41,182.02 302.18,182.60 L288.38,182.60 C288.15,182.02 287.18,180.65 286.98,179.10 C286.78,177.55 286.86,175.42 287.18,173.30 C287.50,171.18 288.20,168.72 288.88,166.40 C289.56,164.08 290.60,162.10 291.28,159.40 C291.96,156.70 292.60,153.27 292.98,150.20 C293.36,147.13 293.48,143.88 293.58,141.00 C293.68,138.12 293.68,135.80 293.58,132.90 C293.48,130.00 293.05,126.02 292.98,123.60 C292.91,121.18 293.15,119.27 293.18,118.40 Z" fill="#e8474b" stroke="#111" stroke-width="0.55" stroke-linejoin="round"/>
<line x1="295.28" y1="118.90" x2="295.28" y2="182.60" stroke="#7a1515" stroke-opacity="0.75" stroke-width="1.5"/>
<rect x="294.18" y="150.80" width="2.20" height="26.50" fill="#fff" stroke="#111" stroke-width="0.55"/>
<circle cx="295.28" cy="170.00" r="0.75" fill="#111"/>
<rect x="258.4" y="105.3" width="57.0" height="80.3" fill="none" stroke="#7a7a7a" stroke-width="0.9"/>
<text x="278.4" y="114.2" font-size="7.3" text-anchor="middle" fill="#000" stroke="#000" stroke-width="0.1">779</text>
<text x="295.3" y="114.2" font-size="7.3" text-anchor="middle" fill="#000" stroke="#000" stroke-width="0.1">87</text>
<polygon points="286.58,114.40 287.26,115.77 288.77,115.99 287.67,117.06 287.93,118.56 286.58,117.85 285.23,118.56 285.49,117.06 284.39,115.99 285.90,115.77" fill="#111"/>
<line x1="330.1" y1="182.40" x2="332.3" y2="182.40" stroke="#555" stroke-width="0.8"/>
<text x="329.1" y="184.80" font-size="6.7" text-anchor="end" fill="#555">0.0</text>
<line x1="330.1" y1="162.39" x2="332.3" y2="162.39" stroke="#555" stroke-width="0.8"/>
<text x="329.1" y="164.79" font-size="6.7" text-anchor="end" fill="#555">0.3</text>
<line x1="330.1" y1="142.38" x2="332.3" y2="142.38" stroke="#555" stroke-width="0.8"/>
<text x="329.1" y="144.78" font-size="6.7" text-anchor="end" fill="#555">0.6</text>
<line x1="330.1" y1="122.37" x2="332.3" y2="122.37" stroke="#555" stroke-width="0.8"/>
<text x="329.1" y="124.77" font-size="6.7" text-anchor="end" fill="#555">0.9</text>
<path d="M352.84,180.30 L353.84,181.50 L355.34,182.20 L360.34,182.60 L344.34,182.60 L349.34,182.20 L350.84,181.50 L351.84,180.30 Z" fill="#5b9bd5" stroke="#111" stroke-width="0.55" stroke-linejoin="round"/>
<line x1="344.34" y1="182.55" x2="360.34" y2="182.55" stroke="#111" stroke-width="0.95"/>
<line x1="352.34" y1="118.40" x2="352.34" y2="182.40" stroke="#111" stroke-width="0.75"/>
<ellipse cx="352.34" cy="182.40" rx="1.3" ry="1.1" fill="#111"/>
<path d="M369.74,177.30 L370.44,178.50 L371.74,180.50 L373.74,181.80 L377.74,182.60 L360.74,182.60 L364.74,181.80 L366.74,180.50 L368.04,178.50 L368.74,177.30 Z" fill="#e8474b" stroke="#111" stroke-width="0.55" stroke-linejoin="round"/>
<line x1="360.74" y1="182.55" x2="377.74" y2="182.55" stroke="#111" stroke-width="0.95"/>
<line x1="369.24" y1="141.50" x2="369.24" y2="182.40" stroke="#111" stroke-width="0.75"/>
<ellipse cx="369.24" cy="182.40" rx="1.3" ry="1.1" fill="#111"/>
<rect x="368.34" y="179.80" width="1.8" height="2.2" fill="#fff" stroke="#111" stroke-width="0.4"/>
<rect x="332.3" y="105.3" width="57.0" height="80.3" fill="none" stroke="#7a7a7a" stroke-width="0.9"/>
<text x="352.3" y="114.2" font-size="7.3" text-anchor="middle" fill="#000" stroke="#000" stroke-width="0.1">634</text>
<text x="369.2" y="114.2" font-size="7.3" text-anchor="middle" fill="#000" stroke="#000" stroke-width="0.1">85</text>
<line x1="404.1" y1="182.40" x2="406.3" y2="182.40" stroke="#555" stroke-width="0.8"/>
<text x="403.1" y="184.80" font-size="6.7" text-anchor="end" fill="#555">0.0</text>
<line x1="404.1" y1="162.39" x2="406.3" y2="162.39" stroke="#555" stroke-width="0.8"/>
<text x="403.1" y="164.79" font-size="6.7" text-anchor="end" fill="#555">0.3</text>
<line x1="404.1" y1="142.38" x2="406.3" y2="142.38" stroke="#555" stroke-width="0.8"/>
<text x="403.1" y="144.78" font-size="6.7" text-anchor="end" fill="#555">0.6</text>
<line x1="404.1" y1="122.37" x2="406.3" y2="122.37" stroke="#555" stroke-width="0.8"/>
<text x="403.1" y="124.77" font-size="6.7" text-anchor="end" fill="#555">0.9</text>
<path d="M426.80,180.60 L427.80,181.80 L434.30,182.60 L418.30,182.60 L424.80,181.80 L425.80,180.60 Z" fill="#5b9bd5" stroke="#111" stroke-width="0.55" stroke-linejoin="round"/>
<line x1="418.30" y1="182.55" x2="434.30" y2="182.55" stroke="#111" stroke-width="0.95"/>
<line x1="426.30" y1="147.30" x2="426.30" y2="182.40" stroke="#111" stroke-width="0.75"/>
<ellipse cx="426.30" cy="182.40" rx="1.3" ry="1.1" fill="#111"/>
<path d="M443.70,178.80 L444.70,180.00 L446.70,181.60 L451.70,182.60 L434.70,182.60 L439.70,181.60 L441.70,180.00 L442.70,178.80 Z" fill="#e8474b" stroke="#111" stroke-width="0.55" stroke-linejoin="round"/>
<line x1="434.70" y1="182.55" x2="451.70" y2="182.55" stroke="#111" stroke-width="0.95"/>
<line x1="443.20" y1="147.30" x2="443.20" y2="182.40" stroke="#3a3a3a" stroke-width="0.9" stroke-dasharray="1.6 0.6"/>
<ellipse cx="443.20" cy="182.40" rx="1.3" ry="1.1" fill="#111"/>
<rect x="406.3" y="105.3" width="57.0" height="80.3" fill="none" stroke="#7a7a7a" stroke-width="0.9"/>
<text x="426.3" y="114.2" font-size="7.3" text-anchor="middle" fill="#000" stroke="#000" stroke-width="0.1">431</text>
<text x="443.2" y="114.2" font-size="7.3" text-anchor="middle" fill="#000" stroke="#000" stroke-width="0.1">85</text>
<line x1="478.1" y1="182.40" x2="480.3" y2="182.40" stroke="#555" stroke-width="0.8"/>
<text x="477.1" y="184.80" font-size="6.7" text-anchor="end" fill="#555">0.0</text>
<line x1="478.1" y1="162.39" x2="480.3" y2="162.39" stroke="#555" stroke-width="0.8"/>
<text x="477.1" y="164.79" font-size="6.7" text-anchor="end" fill="#555">0.3</text>
<line x1="478.1" y1="142.38" x2="480.3" y2="142.38" stroke="#555" stroke-width="0.8"/>
<text x="477.1" y="144.78" font-size="6.7" text-anchor="end" fill="#555">0.6</text>
<line x1="478.1" y1="122.37" x2="480.3" y2="122.37" stroke="#555" stroke-width="0.8"/>
<text x="477.1" y="124.77" font-size="6.7" text-anchor="end" fill="#555">0.9</text>
<line x1="491.96" y1="182.55" x2="508.56" y2="182.55" stroke="#111" stroke-width="0.95"/>
<line x1="500.26" y1="182.00" x2="500.26" y2="182.40" stroke="#111" stroke-width="0.75"/>
<ellipse cx="500.26" cy="182.40" rx="1.3" ry="1.1" fill="#111"/>
<line x1="508.86" y1="182.55" x2="525.46" y2="182.55" stroke="#111" stroke-width="0.95"/>
<line x1="517.16" y1="182.00" x2="517.16" y2="182.40" stroke="#111" stroke-width="0.75"/>
<ellipse cx="517.16" cy="182.40" rx="1.3" ry="1.1" fill="#111"/>
<rect x="480.3" y="105.3" width="57.0" height="80.3" fill="none" stroke="#7a7a7a" stroke-width="0.9"/>
<text x="500.3" y="114.2" font-size="7.3" text-anchor="middle" fill="#000" stroke="#000" stroke-width="0.1">42</text>
<text x="517.2" y="114.2" font-size="7.3" text-anchor="middle" fill="#000" stroke="#000" stroke-width="0.1">18</text>
<line x1="552.0" y1="182.40" x2="554.2" y2="182.40" stroke="#555" stroke-width="0.8"/>
<text x="551.0" y="184.80" font-size="6.7" text-anchor="end" fill="#555">0.0</text>
<line x1="552.0" y1="162.39" x2="554.2" y2="162.39" stroke="#555" stroke-width="0.8"/>
<text x="551.0" y="164.79" font-size="6.7" text-anchor="end" fill="#555">0.3</text>
<line x1="552.0" y1="142.38" x2="554.2" y2="142.38" stroke="#555" stroke-width="0.8"/>
<text x="551.0" y="144.78" font-size="6.7" text-anchor="end" fill="#555">0.6</text>
<line x1="552.0" y1="122.37" x2="554.2" y2="122.37" stroke="#555" stroke-width="0.8"/>
<text x="551.0" y="124.77" font-size="6.7" text-anchor="end" fill="#555">0.9</text>
<path d="M574.72,180.60 L575.72,181.80 L582.22,182.60 L566.22,182.60 L572.72,181.80 L573.72,180.60 Z" fill="#5b9bd5" stroke="#111" stroke-width="0.55" stroke-linejoin="round"/>
<line x1="566.22" y1="182.55" x2="582.22" y2="182.55" stroke="#111" stroke-width="0.95"/>
<line x1="574.22" y1="159.20" x2="574.22" y2="182.40" stroke="#111" stroke-width="0.75"/>
<ellipse cx="574.22" cy="182.40" rx="1.3" ry="1.1" fill="#111"/>
<path d="M591.62,177.80 L593.12,179.00 L595.62,181.40 L599.62,182.60 L582.62,182.60 L586.62,181.40 L589.12,179.00 L590.62,177.80 Z" fill="#e8474b" stroke="#111" stroke-width="0.55" stroke-linejoin="round"/>
<line x1="582.62" y1="182.55" x2="599.62" y2="182.55" stroke="#111" stroke-width="0.95"/>
<line x1="591.12" y1="174.40" x2="591.12" y2="182.40" stroke="#111" stroke-width="0.75"/>
<ellipse cx="591.12" cy="182.40" rx="1.3" ry="1.1" fill="#111"/>
<rect x="554.2" y="105.3" width="57.0" height="80.3" fill="none" stroke="#7a7a7a" stroke-width="0.9"/>
<text x="574.2" y="114.2" font-size="7.3" text-anchor="middle" fill="#000" stroke="#000" stroke-width="0.1">570</text>
<text x="591.1" y="114.2" font-size="7.3" text-anchor="middle" fill="#000" stroke="#000" stroke-width="0.1">85</text>
<polygon points="582.42,114.40 583.10,115.77 584.61,115.99 583.51,117.06 583.77,118.56 582.42,117.85 581.07,118.56 581.33,117.06 580.23,115.99 581.74,115.77" fill="#111"/>
<line x1="626.0" y1="182.40" x2="628.2" y2="182.40" stroke="#555" stroke-width="0.8"/>
<text x="625.0" y="184.80" font-size="6.7" text-anchor="end" fill="#555">0.0</text>
<line x1="626.0" y1="162.39" x2="628.2" y2="162.39" stroke="#555" stroke-width="0.8"/>
<text x="625.0" y="164.79" font-size="6.7" text-anchor="end" fill="#555">0.3</text>
<line x1="626.0" y1="142.38" x2="628.2" y2="142.38" stroke="#555" stroke-width="0.8"/>
<text x="625.0" y="144.78" font-size="6.7" text-anchor="end" fill="#555">0.6</text>
<line x1="626.0" y1="122.37" x2="628.2" y2="122.37" stroke="#555" stroke-width="0.8"/>
<text x="625.0" y="124.77" font-size="6.7" text-anchor="end" fill="#555">0.9</text>
<path d="M648.30,119.00 C648.34,126.12 648.35,153.03 648.53,161.70 C648.71,170.37 648.96,168.68 649.38,171.00 C649.80,173.32 650.31,174.25 651.08,175.60 C651.85,176.95 653.11,178.13 653.98,179.10 C654.85,180.07 656.00,180.82 656.28,181.40 C656.56,181.98 655.78,182.40 655.68,182.60 L640.68,182.60 C640.58,182.40 639.80,181.98 640.08,181.40 C640.36,180.82 641.51,180.07 642.38,179.10 C643.25,178.13 644.51,176.95 645.28,175.60 C646.05,174.25 646.55,173.32 646.98,171.00 C647.40,168.68 647.65,170.37 647.83,161.70 C648.01,153.03 648.02,126.12 648.06,119.00 Z" fill="#5b9bd5" stroke="#111" stroke-width="0.55" stroke-linejoin="round"/>
<line x1="648.18" y1="119.50" x2="648.18" y2="175.00" stroke="#111" stroke-opacity="0.9" stroke-width="0.8"/>
<line x1="648.18" y1="175.00" x2="648.18" y2="182.60" stroke="#111" stroke-opacity="0.8" stroke-width="0.7"/>
<rect x="647.28" y="175.00" width="1.80" height="6.50" fill="#fff" stroke="#111" stroke-width="0.55"/>
<circle cx="648.18" cy="179.50" r="0.75" fill="#111"/>
<path d="M665.43,149.00 C665.57,149.78 666.05,151.97 666.28,153.70 C666.50,155.43 666.50,157.28 666.78,159.40 C667.06,161.52 667.50,164.47 667.98,166.40 C668.46,168.33 669.10,169.47 669.68,171.00 C670.26,172.53 670.90,174.25 671.48,175.60 C672.06,176.95 672.86,178.13 673.18,179.10 C673.50,180.07 673.48,180.82 673.38,181.40 C673.28,181.98 672.71,182.40 672.58,182.60 L657.58,182.60 C657.45,182.40 656.88,181.98 656.78,181.40 C656.68,180.82 656.66,180.07 656.98,179.10 C657.30,178.13 658.10,176.95 658.68,175.60 C659.26,174.25 659.90,172.53 660.48,171.00 C661.06,169.47 661.70,168.33 662.18,166.40 C662.66,164.47 663.10,161.52 663.38,159.40 C663.66,157.28 663.65,155.43 663.88,153.70 C664.10,151.97 664.59,149.78 664.73,149.00 Z" fill="#e8474b" stroke="#111" stroke-width="0.55" stroke-linejoin="round"/>
<line x1="665.08" y1="149.50" x2="665.08" y2="182.60" stroke="#7a1515" stroke-opacity="0.75" stroke-width="1.5"/>
<rect x="664.08" y="169.80" width="2.00" height="10.40" fill="#fff" stroke="#111" stroke-width="0.55"/>
<circle cx="665.08" cy="176.00" r="0.75" fill="#111"/>
<rect x="628.2" y="105.3" width="57.0" height="80.3" fill="none" stroke="#7a7a7a" stroke-width="0.9"/>
<text x="648.2" y="114.2" font-size="7.3" text-anchor="middle" fill="#000" stroke="#000" stroke-width="0.1">761</text>
<text x="665.1" y="114.2" font-size="7.3" text-anchor="middle" fill="#000" stroke="#000" stroke-width="0.1">87</text>
<polygon points="656.38,114.40 657.06,115.77 658.57,115.99 657.47,117.06 657.73,118.56 656.38,117.85 655.03,118.56 655.29,117.06 654.19,115.99 655.70,115.77" fill="#111"/>
<text x="66.3" y="10.4" font-size="8.75" font-weight="bold" font-style="italic" text-anchor="middle" fill="#111">Cylindrotheca</text>
<text x="140.3" y="10.4" font-size="8.75" font-weight="bold" font-style="italic" text-anchor="middle" fill="#111">Fragilariopsis</text>
<text x="214.2" y="10.4" font-size="8.75" font-weight="bold" font-style="italic" text-anchor="middle" fill="#111">Pseudo-nitzschia</text>
<text x="288.2" y="10.4" font-size="8.75" font-weight="bold" font-style="italic" text-anchor="middle" fill="#111">Chaetoceros</text>
<text x="362.1" y="10.4" font-size="8.75" font-weight="bold" font-style="italic" text-anchor="middle" fill="#111">Leptocylindrus</text>
<text x="436.1" y="10.4" font-size="8.75" font-weight="bold" font-style="italic" text-anchor="middle" fill="#111">Minidiscus</text>
<text x="510.1" y="10.4" font-size="8.75" font-weight="bold" font-style="italic" text-anchor="middle" fill="#111">Odontella</text>
<text x="584.0" y="10.4" font-size="8.75" font-weight="bold" font-style="italic" text-anchor="middle" fill="#111">Skeletonema</text>
<text x="658.0" y="10.4" font-size="8.75" font-weight="bold" font-style="italic" text-anchor="middle" fill="#111">Thalassiosira</text>
<text transform="translate(57.5,192.2) rotate(-45)" font-size="8.1" text-anchor="end" fill="#1a1a1a" stroke="#1a1a1a" stroke-width="0.15">All samples</text>
<text transform="translate(74.4,192.2) rotate(-45)" font-size="8.1" text-anchor="end" fill="#1a1a1a" stroke="#1a1a1a" stroke-width="0.15">Sex signal</text>
<text transform="translate(131.5,192.2) rotate(-45)" font-size="8.1" text-anchor="end" fill="#1a1a1a" stroke="#1a1a1a" stroke-width="0.15">All samples</text>
<text transform="translate(148.4,192.2) rotate(-45)" font-size="8.1" text-anchor="end" fill="#1a1a1a" stroke="#1a1a1a" stroke-width="0.15">Sex signal</text>
<text transform="translate(205.4,192.2) rotate(-45)" font-size="8.1" text-anchor="end" fill="#1a1a1a" stroke="#1a1a1a" stroke-width="0.15">All samples</text>
<text transform="translate(222.3,192.2) rotate(-45)" font-size="8.1" text-anchor="end" fill="#1a1a1a" stroke="#1a1a1a" stroke-width="0.15">Sex signal</text>
<text transform="translate(279.4,192.2) rotate(-45)" font-size="8.1" text-anchor="end" fill="#1a1a1a" stroke="#1a1a1a" stroke-width="0.15">All samples</text>
<text transform="translate(296.3,192.2) rotate(-45)" font-size="8.1" text-anchor="end" fill="#1a1a1a" stroke="#1a1a1a" stroke-width="0.15">Sex signal</text>
<text transform="translate(353.3,192.2) rotate(-45)" font-size="8.1" text-anchor="end" fill="#1a1a1a" stroke="#1a1a1a" stroke-width="0.15">All samples</text>
<text transform="translate(370.2,192.2) rotate(-45)" font-size="8.1" text-anchor="end" fill="#1a1a1a" stroke="#1a1a1a" stroke-width="0.15">Sex signal</text>
<text transform="translate(427.3,192.2) rotate(-45)" font-size="8.1" text-anchor="end" fill="#1a1a1a" stroke="#1a1a1a" stroke-width="0.15">All samples</text>
<text transform="translate(444.2,192.2) rotate(-45)" font-size="8.1" text-anchor="end" fill="#1a1a1a" stroke="#1a1a1a" stroke-width="0.15">Sex signal</text>
<text transform="translate(501.3,192.2) rotate(-45)" font-size="8.1" text-anchor="end" fill="#1a1a1a" stroke="#1a1a1a" stroke-width="0.15">All samples</text>
<text transform="translate(518.2,192.2) rotate(-45)" font-size="8.1" text-anchor="end" fill="#1a1a1a" stroke="#1a1a1a" stroke-width="0.15">Sex signal</text>
<text transform="translate(575.2,192.2) rotate(-45)" font-size="8.1" text-anchor="end" fill="#1a1a1a" stroke="#1a1a1a" stroke-width="0.15">All samples</text>
<text transform="translate(592.1,192.2) rotate(-45)" font-size="8.1" text-anchor="end" fill="#1a1a1a" stroke="#1a1a1a" stroke-width="0.15">Sex signal</text>
<text transform="translate(649.2,192.2) rotate(-45)" font-size="8.1" text-anchor="end" fill="#1a1a1a" stroke="#1a1a1a" stroke-width="0.15">All samples</text>
<text transform="translate(666.1,192.2) rotate(-45)" font-size="8.1" text-anchor="end" fill="#1a1a1a" stroke="#1a1a1a" stroke-width="0.15">Sex signal</text>
<text x="0.6" y="241.2" font-size="12" font-weight="bold" fill="#000">b</text>
<clipPath id="clip0"><rect x="22.4" y="249.6" width="493.6" height="212.8"/></clipPath>
<g clip-path="url(#clip0)">
<path d="M59.0,281.6L61.2,280.8L64.1,281.0L66.5,280.4L64.2,279.3L62.1,278.7L60.4,278.4L61.4,277.6L64.4,277.0L66.4,275.9L69.9,275.3L72.9,274.6L76.0,275.2L78.4,275.3L80.8,275.7L83.2,275.9L88.1,276.2L91.7,276.8L95.3,277.3L99.0,276.9L101.4,276.8L106.3,276.3L109.3,276.9L111.7,276.0L115.9,276.9L119.6,277.5L124.4,278.4L126.9,279.0L131.7,278.5L134.1,277.7L137.8,278.7L141.4,279.0L143.8,278.4L146.2,278.7L147.5,276.9L146.2,275.1L148.1,274.0L149.9,275.1L151.1,276.3L153.5,277.5L155.9,278.4L158.4,278.1L159.6,276.9L162.0,276.7L163.2,277.5L163.8,279.3L162.0,280.8L158.6,280.5L157.2,282.4L155.3,283.6L152.9,284.2L150.7,285.6L148.7,287.2L147.9,289.0L148.4,289.9L149.9,291.5L150.5,292.1L153.5,292.1L155.9,292.7L159.6,294.1L162.9,294.2L162.9,296.9L163.8,297.9L165.0,299.0L166.2,298.7L167.0,298.1L167.3,295.1L169.3,293.9L169.8,292.1L168.7,290.2L168.1,287.8L168.7,285.5L171.7,285.6L174.1,285.8L176.5,286.8L178.4,287.2L178.4,289.0L178.4,289.9L180.2,290.1L182.6,290.2L183.8,289.0L184.4,288.1L185.6,289.6L187.5,291.5L188.1,292.7L189.9,294.2L193.2,295.7L194.7,297.2L195.1,297.9L193.5,298.9L189.9,300.3L185.0,300.3L182.0,300.5L179.6,301.5L177.2,303.6L176.3,304.4L178.4,303.2L180.8,301.8L183.8,301.5L184.7,302.0L184.1,303.2L183.8,304.4L185.0,305.2L188.1,305.8L189.9,305.2L190.1,305.5L188.7,306.3L185.6,307.1L182.9,308.4L182.4,307.2L184.4,306.3L182.6,306.4L181.4,307.1L179.6,307.5L177.5,308.2L177.0,309.5L177.8,310.5L175.9,311.0L173.5,311.6L172.9,312.1L172.9,313.3L171.7,314.1L171.0,315.3L170.5,316.4L171.1,318.4L169.8,319.2L168.1,320.1L166.6,320.9L164.4,322.4L163.9,324.2L164.9,326.6L165.5,329.1L165.2,330.6L164.2,330.4L163.2,328.8L162.2,327.2L161.3,324.9L159.2,325.2L157.8,324.3L155.9,324.1L154.1,324.6L154.2,326.0L152.9,325.8L150.5,325.3L147.8,325.5L145.6,326.9L144.8,327.6L144.6,329.8L144.2,332.1L144.2,333.9L144.8,336.0L145.9,337.9L148.1,339.1L151.1,338.6L152.3,338.2L153.0,335.7L154.7,335.2L157.2,335.1L156.6,336.9L155.7,338.8L155.6,341.8L156.6,342.0L159.6,341.9L161.8,343.0L161.0,346.6L161.3,348.0L163.2,350.3L165.0,350.2L166.2,349.6L168.8,350.6L169.0,351.7L168.2,352.5L167.5,351.1L165.6,352.3L164.4,351.7L163.2,351.3L161.3,350.9L158.7,349.1L158.6,347.6L156.6,345.4L154.1,344.8L151.3,343.9L148.7,341.8L145.6,342.2L141.5,340.8L137.2,339.0L134.6,336.3L135.0,335.0L133.6,333.1L131.1,330.3L128.2,327.4L125.9,324.3L123.5,322.6L123.9,324.8L125.9,327.0L127.5,329.7L128.9,331.8L130.0,333.1L129.4,333.4L127.2,331.5L126.6,329.7L124.2,328.2L123.0,327.2L122.4,324.4L121.3,322.6L120.7,321.8L119.1,320.2L116.4,319.4L114.9,316.8L114.1,315.3L112.6,313.4L111.8,312.2L112.1,310.3L112.2,307.8L112.3,305.2L111.5,302.5L113.5,302.7L113.4,301.8L111.1,300.2L108.1,299.3L107.5,297.5L105.0,295.3L103.8,293.9L102.6,292.7L100.2,291.5L99.0,290.5L97.2,290.6L96.0,289.6L93.3,288.9L89.3,288.4L85.6,287.6L83.2,288.3L81.5,288.7L78.5,289.4L80.6,287.0L77.8,288.4L76.0,289.6L73.5,291.1L70.5,292.7L67.5,294.0L64.4,294.8L66.3,293.5L69.9,291.5L71.7,290.0L68.7,290.0L66.3,288.7L63.2,287.8L62.1,287.1L62.9,285.1L67.5,284.2L67.5,283.0L65.0,283.0L62.3,283.0L60.8,282.4ZM168.8,350.6L170.5,349.7L171.1,348.5L172.7,347.6L175.1,346.8L175.7,346.2L176.1,347.7L175.5,348.5L176.5,348.1L177.8,346.5L178.4,347.3L179.8,348.5L182.6,348.3L185.0,348.2L187.5,348.2L188.7,349.3L188.9,350.9L191.1,351.7L192.1,353.0L193.5,353.9L195.9,353.9L197.8,354.4L199.6,355.3L200.5,356.1L202.0,359.0L201.4,361.0L203.8,362.7L206.8,362.4L209.3,364.1L211.7,364.6L214.1,364.7L215.9,365.7L217.8,367.1L219.9,367.9L220.4,370.3L219.9,372.1L218.4,373.9L217.2,375.5L215.9,377.0L215.3,379.4L215.1,382.4L214.5,384.9L213.8,386.1L212.9,387.9L211.7,389.0L210.2,389.1L208.1,389.8L205.6,390.9L203.8,392.7L203.7,395.8L202.0,397.8L200.8,399.4L199.0,401.2L197.8,402.7L196.1,403.5L194.5,403.5L192.5,402.9L191.8,403.2L193.0,404.0L193.9,405.4L192.9,407.4L191.1,408.1L187.5,408.5L187.1,410.3L183.8,410.9L185.0,412.8L183.8,414.0L183.2,415.8L180.8,417.0L182.6,418.8L182.6,419.4L179.6,422.0L179.0,423.7L179.7,424.8L179.6,425.5L180.8,427.3L183.5,427.8L181.4,428.2L179.6,428.5L177.2,427.9L175.3,426.7L172.3,424.9L171.1,421.9L171.1,419.4L172.3,417.6L171.0,418.0L172.9,414.6L172.7,412.8L173.3,410.9L173.5,407.3L173.9,406.1L174.7,404.3L175.7,401.2L175.9,397.6L176.2,395.2L177.2,391.5L177.4,387.9L177.5,383.6L175.9,382.4L174.1,381.2L171.1,379.4L170.1,377.6L169.0,375.8L167.7,373.3L166.2,370.9L164.9,368.5L164.1,367.0L165.4,365.4L164.7,363.7L165.0,361.8L165.6,360.2L167.0,359.5L168.7,358.0L168.9,356.3L168.7,353.6L168.2,352.5ZM174.1,266.0L177.8,267.8L180.2,269.0L187.5,269.0L192.3,269.6L194.1,271.4L195.3,273.3L196.5,275.1L198.4,276.0L200.2,277.5L198.4,279.3L197.8,280.5L199.0,282.4L200.2,283.8L202.0,286.0L203.8,287.2L206.8,288.1L209.3,288.7L211.1,287.8L211.7,286.6L212.9,284.8L213.8,283.0L216.5,281.7L220.2,280.8L223.8,278.7L228.7,278.2L232.3,277.3L235.3,275.9L235.9,274.5L235.9,273.3L237.8,272.0L239.6,270.8L239.0,269.0L240.2,267.8L238.4,265.4L241.4,263.9L246.8,262.7L243.2,261.7L235.9,261.1L226.2,260.0L214.1,259.9L202.0,260.9L192.3,261.7L187.5,262.3L183.8,263.2L181.4,264.2L176.5,265.1ZM233.5,281.7L235.9,280.7L240.8,280.9L245.0,280.8L246.2,282.1L244.4,283.2L240.2,284.3L235.3,283.8L235.9,283.0L233.5,282.0ZM153.5,272.0L158.4,271.7L163.2,271.8L168.1,272.9L171.7,273.5L175.3,274.5L179.6,275.7L181.4,277.3L182.0,278.7L186.2,279.9L188.3,280.4L186.9,281.7L184.4,283.0L183.8,284.5L184.2,285.3L182.0,286.0L179.6,285.4L176.5,284.9L173.5,283.1L170.5,283.3L168.3,283.0L172.9,281.7L174.1,280.5L174.1,279.3L171.1,278.2L169.3,277.3L165.6,276.5L162.6,276.5L159.6,276.0L155.9,275.6L154.1,274.5ZM118.4,274.5L119.6,272.7L124.4,271.9L131.7,271.9L136.6,272.3L140.2,273.3L140.8,276.3L137.8,278.0L131.7,278.4L124.4,278.4L120.2,277.1L118.4,275.7ZM110.5,274.1L110.5,271.4L113.5,270.8L120.8,271.1L122.6,272.3L119.6,274.1L114.7,275.1ZM145.0,274.1L140.2,272.7L141.4,271.7L145.0,271.4L149.3,272.3L146.9,273.9ZM148.7,273.6L146.9,272.7L149.3,271.3L152.3,271.9L151.1,273.3ZM144.4,270.2L140.2,269.6L140.8,268.4L145.0,268.0L146.2,269.3ZM158.4,283.6L162.0,284.2L165.0,283.8L163.8,282.4L160.2,281.1L156.6,282.4L155.9,283.3ZM190.6,303.5L191.8,301.6L193.3,298.7L195.3,298.6L195.2,300.8L197.8,301.5L198.8,303.5L198.1,304.6L197.2,303.9L195.3,304.3L194.5,303.5ZM107.0,299.6L109.9,300.2L113.0,302.5L111.3,302.2L108.1,300.5ZM102.6,295.7L103.8,297.5L103.1,297.9L101.4,296.3ZM185.0,304.8L187.5,304.9L186.9,305.4L185.0,305.4ZM159.6,334.6L160.8,333.7L163.2,333.2L165.6,333.3L168.1,334.0L170.5,335.6L172.7,336.7L171.1,337.1L168.9,337.1L168.4,336.1L167.5,335.1L163.8,334.4L160.2,334.8ZM172.4,338.9L174.4,337.1L177.8,337.3L179.8,338.6L176.4,339.9L174.4,339.2ZM167.7,338.9L170.1,339.1L169.5,339.5L168.3,339.5ZM181.2,338.8L183.1,338.9L183.0,339.4L181.2,339.4ZM255.8,317.5L257.1,316.7L260.1,316.7L262.0,314.7L262.8,314.1L262.2,313.3L263.7,311.5L266.5,310.4L266.4,309.0L268.1,308.6L269.9,308.9L271.7,308.1L273.3,307.3L275.0,307.9L275.9,309.6L277.5,310.6L279.6,311.5L281.6,312.7L282.0,314.5L281.5,315.1L282.6,314.5L283.3,313.5L282.6,312.4L284.2,312.2L285.0,312.6L283.8,311.6L282.0,310.4L279.8,309.9L279.1,308.4L277.5,307.2L277.5,306.3L279.2,305.8L280.8,306.6L281.5,307.9L283.8,309.0L286.0,310.4L286.1,312.2L287.1,313.3L288.3,315.3L289.7,316.9L290.5,315.7L291.7,315.1L290.5,313.9L290.1,312.1L291.7,311.8L294.1,311.7L294.8,312.3L294.4,313.3L295.1,314.6L295.7,316.3L297.1,316.8L299.7,316.6L302.0,317.4L303.8,317.2L306.1,316.7L306.0,318.1L306.1,319.4L305.6,320.2L305.0,321.4L304.4,323.0L304.1,323.2L304.9,325.4L306.8,329.1L308.7,332.1L310.1,335.1L312.0,338.2L314.1,341.2L315.0,344.8L315.3,345.8L317.1,345.7L321.4,344.2L325.6,342.2L329.3,340.0L331.7,338.4L333.5,336.3L335.1,333.9L333.5,332.6L331.7,332.1L330.8,329.2L329.9,330.3L328.0,331.8L325.6,332.1L325.0,330.3L324.8,329.5L324.2,331.1L323.4,329.1L322.6,327.8L321.4,326.6L320.8,324.8L322.6,324.8L323.8,326.0L325.0,327.5L328.0,328.9L331.1,328.3L332.3,330.0L337.1,330.6L340.2,330.5L343.3,330.4L344.4,332.1L345.6,332.7L347.4,333.5L346.2,334.2L348.0,336.0L350.5,335.1L350.8,338.2L351.7,341.8L352.9,344.2L353.5,346.6L355.0,349.2L356.5,351.4L357.4,350.3L358.7,348.7L359.4,346.6L359.9,345.3L359.8,342.4L362.3,341.1L364.4,339.0L367.4,336.9L368.0,335.1L369.9,334.8L371.7,334.5L373.9,334.2L374.5,336.1L376.3,338.2L376.9,341.8L378.1,342.0L380.8,341.2L381.0,343.2L382.0,346.6L381.7,349.7L381.7,351.5L384.0,353.3L384.4,355.7L385.4,357.7L388.0,359.6L388.9,359.4L387.9,356.0L386.5,353.7L385.0,352.8L384.2,351.0L382.8,348.7L383.3,346.0L384.4,344.8L385.0,345.9L387.0,346.6L387.4,347.9L389.3,348.6L389.9,350.8L391.7,349.7L392.9,348.5L395.0,347.3L395.1,344.8L394.5,342.6L391.9,340.0L390.7,338.2L391.7,336.3L393.5,335.1L395.7,335.2L396.2,336.6L396.5,335.5L400.2,334.3L403.2,333.4L405.0,332.5L407.4,330.3L408.0,328.7L409.9,326.6L410.5,324.9L410.3,323.6L409.1,321.7L407.4,319.4L408.4,317.5L411.1,315.8L408.9,315.3L406.7,315.7L405.6,314.1L405.3,313.9L407.4,312.8L409.9,311.7L410.5,312.3L409.5,314.1L411.1,313.3L413.3,312.8L414.3,314.3L415.9,315.7L415.8,318.7L417.1,319.2L419.3,318.5L419.4,316.9L418.3,314.7L417.1,312.9L419.8,311.7L421.0,309.9L422.6,308.8L426.5,308.1L429.9,304.8L432.6,302.4L432.9,299.3L433.9,296.9L429.2,295.7L426.6,294.8L428.6,292.7L432.9,290.6L435.9,289.3L440.8,289.1L445.6,289.4L449.9,289.3L450.5,286.6L455.9,286.4L456.5,286.6L454.1,290.8L452.5,292.1L451.4,294.5L452.4,299.3L454.7,297.3L456.5,295.5L459.1,293.2L460.5,290.8L462.0,288.7L463.8,288.1L468.6,288.4L471.7,287.2L473.5,286.2L477.1,285.4L480.2,283.0L478.9,282.7L480.8,282.4L484.4,282.0L489.0,283.1L491.1,281.9L493.2,281.1L490.5,279.9L485.6,279.2L480.8,277.6L474.7,276.5L469.2,276.2L463.8,276.8L457.7,276.8L456.5,275.3L446.8,275.2L440.8,273.5L432.3,273.3L426.2,274.5L420.2,275.1L417.7,273.3L417.1,272.0L412.9,272.0L405.6,272.0L400.2,272.0L398.3,271.4L395.9,271.4L399.0,269.0L392.3,267.2L389.0,266.9L383.8,268.4L380.2,269.0L375.3,269.1L369.9,269.7L367.4,271.4L362.0,272.0L360.4,273.3L360.2,274.5L357.1,273.5L354.1,272.9L350.5,273.0L347.4,272.3L345.6,274.5L343.8,276.9L342.6,277.5L335.3,277.5L332.9,278.1L328.0,278.5L324.4,278.2L315.9,278.1L315.3,280.9L312.3,280.4L308.7,281.0L305.0,283.0L306.2,283.7L311.1,283.0L312.9,281.0L312.3,279.1L308.7,277.7L302.6,277.0L299.0,276.5L292.9,275.0L288.1,276.0L283.2,276.9L279.6,278.7L277.8,281.1L275.3,283.0L271.1,285.0L268.7,286.6L268.7,288.4L269.4,289.8L271.1,290.8L272.5,290.6L275.4,288.9L275.9,289.8L276.7,290.5L278.1,292.9L279.6,294.0L282.0,293.2L282.6,291.5L284.4,289.6L285.0,289.0L283.6,287.6L283.8,285.4L287.4,283.8L289.3,281.7L292.3,281.4L293.4,282.4L290.5,283.9L288.4,285.4L288.7,287.4L290.5,288.7L292.9,288.2L296.5,287.8L299.0,288.4L296.5,289.0L291.7,289.3L291.1,290.2L292.1,291.5L291.8,292.1L289.3,291.5L288.1,292.3L288.2,293.9L286.2,295.2L285.0,295.0L282.6,295.1L279.9,295.8L277.8,295.2L275.9,295.7L275.3,295.1L274.5,294.5L275.3,293.9L275.1,292.9L275.4,291.2L272.4,292.4L273.0,293.9L273.1,294.6L273.0,295.8L271.7,296.2L270.1,296.4L268.4,296.9L267.8,298.1L266.8,298.9L265.6,299.2L264.5,300.3L262.8,301.0L261.1,301.3L260.7,300.9L260.7,302.1L259.0,302.0L256.9,302.5L257.4,303.2L259.6,303.8L261.1,305.2L261.1,307.1L260.8,308.6L258.0,308.6L254.1,308.3L252.7,308.6L251.3,309.2L251.8,310.5L252.1,312.1L251.1,314.3L251.9,315.2L251.7,316.3L253.5,316.1L254.8,316.6ZM255.4,317.8L260.2,318.6L262.6,317.8L266.2,316.6L269.9,316.3L274.5,316.0L275.9,316.2L275.3,317.5L275.9,318.5L274.8,319.7L275.1,320.4L276.5,321.0L278.6,321.3L281.3,322.0L281.4,323.0L284.4,324.2L286.2,324.4L287.0,323.6L287.0,322.1L288.7,321.3L290.5,321.7L292.9,322.7L297.7,323.7L300.2,323.0L301.7,323.2L304.1,323.2L304.9,325.4L304.1,327.5L302.6,325.4L302.1,324.9L303.2,328.4L304.4,330.9L305.6,332.7L307.3,334.5L307.8,337.5L309.3,339.4L310.2,342.0L311.7,343.6L314.1,345.9L315.1,347.3L316.5,348.6L320.8,347.6L324.7,346.9L324.4,348.6L323.8,350.9L321.4,355.1L318.4,358.8L315.3,361.8L313.0,363.3L311.1,365.4L310.1,366.9L309.6,369.1L310.5,370.9L311.4,373.9L311.8,378.8L311.1,381.0L307.4,382.7L305.6,384.2L305.4,387.9L305.6,390.3L302.6,392.1L302.1,392.7L302.5,395.4L300.5,397.0L299.0,398.8L296.5,401.0L293.7,402.4L289.3,402.7L286.8,403.4L285.0,402.8L284.8,401.2L284.3,399.4L282.6,395.9L280.9,393.6L280.2,389.1L278.7,386.1L276.9,382.2L277.5,378.8L279.0,376.4L278.6,372.1L277.5,368.5L276.9,367.0L274.2,363.6L273.9,360.6L274.4,357.0L273.0,355.7L269.9,356.0L268.1,353.6L265.6,353.4L262.6,354.3L260.2,355.4L257.8,354.9L253.5,355.9L251.1,354.5L248.7,352.8L246.6,350.9L246.2,349.7L244.4,348.1L242.4,346.2L241.4,343.4L242.6,341.2L243.0,338.2L242.0,336.0L242.6,333.9L244.4,331.5L245.1,329.4L246.8,327.6L249.3,326.4L250.7,324.8L250.8,322.4L252.3,320.8L254.4,320.0ZM322.4,375.8L323.8,380.0L322.6,382.4L321.4,386.1L320.2,389.7L319.6,391.5L317.1,392.1L315.6,389.7L315.1,387.3L316.4,384.9L315.9,381.8L318.4,380.4L320.5,378.2ZM255.7,300.4L258.4,300.2L261.4,299.7L264.3,299.1L264.7,297.4L263.0,296.3L262.0,295.1L260.8,293.9L259.9,292.9L260.4,291.5L258.4,291.2L259.0,290.1L256.5,290.1L255.7,291.5L255.7,292.9L256.5,293.6L256.5,294.7L258.6,294.6L258.5,295.5L259.0,296.4L257.1,296.5L257.5,297.2L257.1,297.9L256.2,298.4L258.4,298.7L259.0,299.1L257.5,299.1ZM255.3,298.1L255.1,296.4L255.3,295.1L255.1,294.2L253.5,294.1L252.3,295.1L250.5,295.5L250.6,296.4L251.1,297.5L250.1,298.2L251.0,298.7L252.9,298.4L255.0,297.9ZM277.6,315.3L279.0,314.9L281.5,314.7L280.9,316.7L279.9,316.3ZM272.5,311.6L274.2,311.3L274.4,313.7L273.0,314.0L272.8,312.9ZM273.0,309.6L274.0,309.0L274.1,310.3L273.8,311.0L273.0,310.5ZM291.1,318.3L294.5,318.4L294.1,318.7L291.7,318.7ZM301.7,318.7L304.5,317.9L303.8,318.9L302.6,319.2ZM275.9,266.0L278.4,264.8L282.0,264.2L289.3,263.7L295.3,264.2L289.3,266.0L284.4,267.2L282.0,268.4L279.6,267.4ZM325.0,274.5L327.4,275.4L332.3,275.6L330.5,273.4L334.1,271.1L339.0,269.5L346.0,267.9L343.8,267.7L336.5,268.6L331.1,270.8L328.0,272.3L326.8,273.3ZM320.8,263.8L329.3,264.2L335.3,263.9L339.0,262.9L329.3,262.0L318.4,262.9ZM374.1,266.0L379.0,266.2L383.8,266.2L389.9,264.8L383.8,262.7L377.7,262.9L374.1,263.6ZM427.4,270.8L431.1,271.7L434.7,271.7L440.8,270.8L444.4,270.2L439.6,269.0L433.5,269.0L428.6,269.0ZM478.9,275.1L483.8,274.8L482.0,274.3L479.5,274.5ZM434.7,305.4L436.5,304.8L436.2,301.8L437.5,301.8L435.9,298.1L435.9,295.3L435.1,295.3L434.3,298.1L434.9,300.5L434.6,303.0L434.6,304.7ZM421.3,320.0L423.2,319.6L426.2,319.2L426.3,320.4L427.2,320.6L428.5,319.6L430.8,319.2L432.3,318.6L433.2,317.9L433.5,315.7L434.7,313.3L434.1,311.0L432.3,311.2L432.3,312.7L431.7,314.7L430.5,315.7L429.0,315.7L428.3,316.9L426.8,318.0L423.8,318.1L422.0,319.2ZM432.3,310.9L433.7,310.5L436.2,310.3L438.9,308.7L438.7,307.5L434.7,306.0L434.1,307.8L432.8,308.8L432.3,309.6ZM419.8,320.9L421.3,320.1L422.5,320.8L421.9,323.1L420.9,323.6L420.2,322.1ZM423.2,320.8L425.0,319.6L425.9,320.2L423.8,321.5ZM408.2,333.3L409.3,330.5L410.3,330.9L409.9,332.7L409.0,334.6ZM394.3,337.9L396.5,336.8L397.1,337.4L395.3,339.1ZM408.0,341.8L408.8,338.8L410.7,338.8L410.7,340.6L409.9,342.4L412.9,344.5L412.3,345.8L409.3,344.5L408.8,343.6ZM410.5,352.7L412.3,350.9L414.7,349.3L415.9,352.1L414.7,354.3L412.9,353.0ZM410.3,346.9L414.7,347.3L414.1,349.1L411.7,349.7L410.5,348.5ZM404.6,351.1L407.6,347.6L407.8,348.1L405.0,351.5ZM395.4,358.9L394.7,361.2L396.2,364.7L398.0,365.0L399.6,365.1L401.4,365.4L403.4,365.9L403.8,363.6L405.0,361.1L405.5,359.0L406.7,355.4L407.1,354.6L405.3,353.4L404.4,352.7L403.2,353.6L402.3,354.8L400.8,355.7L399.3,357.6L397.1,359.4ZM378.1,354.4L380.8,354.9L384.2,358.5L387.9,362.3L389.3,364.0L391.1,365.1L391.0,368.2L389.4,368.4L386.6,366.1L385.0,364.2L384.2,362.2L382.3,359.1L380.4,357.3ZM390.1,369.4L391.1,368.4L393.9,368.7L396.4,369.6L399.1,369.6L401.3,370.5L401.4,371.8L398.3,371.3L394.7,370.7L391.6,370.2ZM402.0,371.3L406.8,371.1L410.5,371.1L411.7,371.4L410.5,372.0L406.8,372.0L403.2,372.1ZM412.3,373.7L414.1,372.1L416.9,371.4L414.1,372.8ZM407.3,367.9L407.6,365.4L406.6,364.5L407.8,361.1L408.2,360.2L411.7,360.1L414.1,359.3L413.3,360.7L409.9,360.6L409.6,362.3L412.2,362.3L409.9,363.5L411.4,366.7L409.9,366.9L409.1,364.4L408.5,367.9ZM417.1,358.8L418.3,359.4L417.7,361.2L418.7,362.2L417.5,361.8L417.0,360.0ZM417.7,365.1L421.1,365.3L420.2,365.9L418.3,365.6ZM421.4,362.8L423.2,361.7L425.0,362.3L426.2,365.2L429.6,363.0L433.5,364.4L437.7,365.8L439.3,367.6L441.4,368.5L440.9,370.3L442.6,372.1L445.0,373.8L443.2,373.7L440.8,373.3L439.6,370.9L437.1,370.5L436.3,372.1L433.5,372.2L431.1,371.0L429.9,371.4L429.6,367.6L426.8,366.5L425.0,365.9L423.6,366.2L422.6,364.7L424.4,364.1L422.6,363.5ZM442.6,367.9L445.0,367.3L446.8,366.3L447.1,367.3L444.4,368.7L442.6,368.5ZM401.7,387.6L403.8,386.3L406.8,385.5L409.3,384.9L410.8,383.0L412.3,381.2L414.1,379.4L415.9,378.2L417.7,379.6L419.6,379.3L420.5,376.5L422.6,374.9L423.8,375.5L426.8,375.8L428.4,376.0L426.8,379.0L428.0,380.4L431.4,382.3L433.2,382.4L434.1,379.4L434.2,376.5L435.3,374.2L436.5,376.7L437.7,378.5L438.8,380.6L439.8,384.1L442.9,385.8L445.4,388.5L448.2,391.5L448.8,395.4L448.2,398.2L447.4,400.6L446.0,402.3L444.4,406.1L444.3,406.7L441.4,407.3L439.9,408.6L437.7,407.5L436.5,408.3L433.5,407.4L431.9,406.3L431.4,404.5L430.2,404.4L430.5,403.2L429.5,403.7L429.2,401.8L427.4,403.4L426.5,401.2L425.0,400.5L421.4,399.4L417.7,400.0L412.9,401.2L412.3,402.3L408.0,402.3L405.6,403.7L403.2,403.7L402.0,402.8L402.8,401.6L402.9,400.0L402.0,397.0L400.9,394.6L400.0,392.7L400.5,390.9L400.0,387.9ZM438.0,410.6L442.3,410.8L442.3,412.4L440.8,414.1L438.7,412.6ZM471.9,402.9L474.1,404.6L475.7,406.1L478.9,406.9L478.2,408.7L476.9,409.7L475.1,411.7L474.2,411.2L474.7,409.6L473.2,408.7L474.5,407.3L473.9,405.5ZM471.9,410.3L473.7,411.5L472.6,413.4L472.0,414.3L470.1,415.2L469.4,416.9L467.4,417.7L464.4,417.0L465.0,415.5L466.6,414.6L469.2,413.2L470.3,411.9L471.1,410.6ZM359.3,351.5L359.8,349.3L361.9,352.1L361.0,353.7L359.6,353.8ZM188.3,423.4L192.3,423.4L192.5,424.0L189.9,424.5L188.4,424.0ZM216.5,426.7L219.0,426.9L218.4,427.4ZM346.0,420.6L348.0,420.8L347.4,421.5L346.2,421.4ZM44.4,470.4L44.4,465.5L56.6,464.3L63.6,459.0L68.7,457.8L77.2,455.3L86.9,453.9L96.0,452.4L111.1,451.2L123.2,451.0L133.9,449.6L145.0,448.1L153.5,448.9L159.6,449.3L168.1,447.9L171.7,445.9L177.8,444.4L182.6,442.7L186.2,441.5L188.7,441.9L187.5,444.9L188.7,448.5L192.3,452.2L195.9,454.6L202.0,456.5L210.5,456.8L216.5,455.2L219.0,453.5L226.2,452.2L238.4,450.4L247.7,449.1L256.5,447.9L262.6,447.1L271.1,446.4L280.1,445.7L289.3,445.6L298.0,444.9L305.0,444.7L311.1,444.2L319.6,442.5L328.3,441.1L335.3,443.1L343.4,446.8L349.9,445.3L358.7,442.0L365.6,441.6L377.7,441.4L392.8,440.9L402.0,441.5L414.1,442.2L430.8,443.4L438.3,443.9L446.8,444.9L457.2,446.8L463.8,447.7L468.6,448.7L469.9,453.4L471.1,464.3L492.9,465.5L492.9,470.4Z" fill="#cbcbcb"/>
<path d="M113.5,268.8L119.6,266.8L129.3,265.7L141.4,264.2L151.1,262.6L159.6,261.4L171.7,260.5L187.5,260.8L187.5,262.0L180.2,263.6L174.1,265.4L169.3,266.6L166.9,268.5L163.2,269.1L153.5,269.5L145.0,269.9L135.3,269.9L126.9,269.9L119.6,269.5Z" fill="#d2d2d2"/>
<path d="M296.5,311.2L297.3,308.4L299.0,306.0L300.8,304.7L303.2,305.4L302.6,306.6L303.3,307.3L305.6,306.6L306.8,306.3L308.7,304.3L309.9,304.2L308.1,306.0L309.3,307.5L311.1,308.6L312.9,310.7L311.1,311.6L307.4,311.2L305.0,310.3L302.6,310.4L300.2,311.2L297.7,311.2ZM319.6,307.2L320.2,305.9L322.0,304.8L324.4,304.2L326.8,304.4L326.8,306.3L324.8,307.2L324.4,309.0L326.5,310.3L326.8,312.1L327.8,313.9L327.9,315.8L325.0,316.7L322.6,315.7L321.9,314.5L322.6,312.4L321.4,310.5L320.2,309.0ZM333.3,305.4L336.5,304.8L337.1,306.6L334.7,307.8L333.3,306.6Z" fill="#fff"/>
<path d="M64.4,294.8L61.4,295.7L58.4,296.7L55.3,297.4L51.7,298.0L48.1,298.4L44.4,298.5" fill="none" stroke="#cbcbcb" stroke-width="0.7" stroke-dasharray="2 0.8"/>
<path d="M80.8,458.8L95.3,458.5M111.1,459.0L126.9,459.3M117.2,456.1L131.7,455.6M147.5,455.2L158.4,455.6M175.3,449.5L182.6,447.9M192.3,458.2L202.0,459.7M214.1,458.8L226.2,459.5" fill="none" stroke="#fff" stroke-width="0.7" stroke-opacity="0.6"/>
<path d="M91.7,276.8L91.7,288.1L96.0,289.6M113.4,301.8L147.2,301.8L154.1,303.0L160.2,304.8L162.6,306.6L162.0,310.3L166.9,308.7L169.9,307.6L172.1,306.6L175.9,306.6L178.7,303.7L180.4,304.1L181.4,306.6M120.7,321.8L123.5,321.8L128.1,323.2L131.5,323.2L133.5,322.6L135.9,325.3L137.8,326.0L139.7,325.1L142.0,327.8L144.6,329.8M150.9,343.6L152.3,339.6L154.6,339.6L155.7,338.8M177.8,346.5L174.7,352.1L180.8,353.7L181.4,359.4L177.8,366.3L174.1,364.2L171.3,361.3L167.0,359.5M189.9,350.9L188.7,354.9L189.9,360.0L194.7,358.8L199.6,358.8M177.8,366.3L173.5,370.3L174.7,373.3L179.0,374.5L178.6,380.0L178.4,382.4L177.5,383.6M165.4,365.4L168.1,364.8L171.3,361.3M179.0,374.5L183.8,373.3L189.9,377.6L192.3,381.0L192.3,385.5L187.5,388.2L181.4,388.5L178.4,382.4M181.4,388.5L179.6,392.7L177.8,397.6L177.8,403.7L175.9,409.7L175.3,415.8L174.1,421.9L179.0,424.3M192.3,385.5L192.3,387.9L196.5,392.1L192.9,394.6L191.7,394.3L187.5,388.2M196.5,392.1L197.4,394.2L192.9,397.8L197.8,402.1M192.9,397.8L191.8,401.8M260.2,318.6L260.8,322.4L252.1,327.6L246.8,327.6M252.1,327.6L252.1,330.3L248.1,332.7L246.8,335.4L242.0,335.4M248.1,332.7L256.5,331.1L264.1,335.7L267.4,337.9L277.1,332.7L280.8,333.3L291.7,336.9L291.7,334.5L292.9,334.5L307.3,334.5M274.1,324.8L274.1,329.1L275.0,331.5L277.1,332.7M276.5,321.0L274.1,324.8L272.3,323.6L272.9,316.9M292.9,322.7L292.9,334.5M291.7,336.9L291.7,350.9L289.9,355.7L282.0,356.3L280.2,345.4L280.8,333.3M289.9,355.7L295.9,355.1L300.2,357.0L305.0,355.7L303.8,349.7L306.8,343.9L309.3,339.4M267.4,337.9L266.8,342.4L263.2,343.0L255.9,342.4L248.7,342.4L247.7,343.4L242.4,346.2M266.8,342.4L267.4,344.8L273.5,345.7L280.2,345.4M265.9,353.4L266.8,347.3L263.2,347.9L259.0,347.9L255.9,348.5L252.9,349.1L248.7,352.8M259.0,347.9L259.0,355.1M263.2,347.9L262.6,354.3M252.9,349.1L253.5,355.9M274.1,356.3L274.7,353.9L277.1,352.7L280.2,349.1L280.2,345.4M282.0,356.3L282.0,358.8L279.6,359.4L276.3,358.5L274.5,358.4M282.0,358.8L283.8,362.4L282.6,366.1L277.5,368.5M283.8,362.4L289.3,366.7L292.3,375.1L289.3,377.0L289.3,381.2L286.8,383.0L277.1,382.2M300.2,357.0L299.0,362.4L298.4,366.7L299.6,371.5L297.1,371.5L292.3,375.1M299.0,362.4L303.8,362.4L313.0,363.3M305.0,355.7L312.3,356.3L313.0,363.3M312.3,356.3L315.9,355.4L320.8,351.5L315.1,347.3M299.6,371.5L303.2,372.7L311.4,373.9M303.2,372.7L305.0,378.2L302.6,381.8L299.0,380.0L289.3,381.2M305.0,378.2L305.6,384.2M302.6,381.8L302.0,387.9L297.7,388.1L294.1,390.9L286.8,390.9L286.8,395.8L282.6,395.9M286.8,383.0L286.8,390.9M301.4,388.2L301.4,392.7M264.8,309.6L260.8,308.6M254.1,310.4L254.7,312.7L253.8,314.5L253.5,316.1M265.6,299.2L269.6,301.2L272.5,301.8L271.8,303.5L269.9,305.2L271.1,307.8L271.7,308.1M270.1,296.4L270.8,298.2L269.9,299.7L269.6,301.2M271.8,303.5L275.3,303.6L278.4,303.6L280.2,302.4L277.8,300.2L280.8,299.3L279.9,295.8M278.4,303.6L279.2,305.8M271.1,305.5L275.3,304.8L277.8,304.6L279.2,305.8M280.8,299.3L285.4,301.2L289.9,301.5L291.7,299.9L291.1,295.9L290.5,295.2L288.2,293.9M280.2,302.4L283.2,303.0L289.9,302.6L289.9,301.5M283.2,303.0L282.0,304.8L279.2,305.8M289.9,302.6L294.7,302.6L296.8,306.0L298.6,306.4M289.9,302.6L288.1,305.4L290.1,307.6L294.1,308.1L297.3,308.2M282.0,304.8L285.6,305.5L288.1,305.4M285.6,305.5L286.0,310.4M290.1,307.6L289.9,310.0L290.1,312.1M294.1,308.1L289.9,310.0L287.8,311.6L287.1,313.3M294.8,312.3L296.5,310.4M291.7,299.9L299.0,298.7L305.0,298.1L311.1,301.2L309.3,303.8M291.1,295.9L296.5,293.3L300.8,297.5L299.0,298.7M296.5,293.3L296.5,287.8M292.1,291.5L295.9,291.3M288.2,293.9L294.7,293.6L296.5,293.3M296.5,287.8L299.0,284.8L298.4,279.9L297.1,277.5L292.9,278.0L288.1,277.5M288.1,277.5L284.4,278.7L280.2,282.4L277.1,287.2L275.9,289.8M292.3,281.4L291.7,278.0L288.1,277.5M311.1,308.6L315.3,310.3L319.0,311.1L321.4,310.5M315.3,310.3L315.9,313.3L319.0,314.0L321.9,314.5M306.2,316.6L313.5,316.1L316.5,316.1L315.9,313.3M313.5,316.1L312.3,319.4L309.9,322.4L307.2,322.0L305.6,321.0M312.3,319.4L309.6,320.7L307.4,323.0L309.9,324.8L307.4,325.4L305.0,325.4M316.5,316.1L318.4,318.7L320.8,324.8M309.9,322.4L315.9,325.8L320.2,326.0L320.8,324.8M309.6,320.7L311.1,322.4L315.9,325.8M315.3,340.2L318.4,340.2L325.6,338.2L329.3,336.9L330.1,334.5L326.2,333.9L325.0,331.5M325.6,338.2L326.8,341.1M330.1,334.5L330.8,331.5M327.9,315.8L331.7,315.1L336.5,316.9L336.5,319.4L335.9,324.8L337.1,325.4L339.0,329.1L337.1,330.6M336.5,316.9L340.2,316.3L344.4,316.0L349.3,316.3L352.9,316.3L349.3,318.1L348.7,320.0L346.8,320.6L346.2,323.0L343.2,324.8L337.7,325.4L335.9,324.8M352.9,316.3L353.5,318.7L357.1,318.1L358.3,321.8L357.7,323.6L360.8,324.6L365.6,326.9L369.3,327.4L374.1,327.8L379.6,326.0L380.8,327.8L377.7,329.1L376.5,332.7L375.3,333.9L374.5,336.1M352.9,316.3L351.7,320.0L352.3,321.8L353.5,322.4L352.9,323.6L349.9,327.2L347.4,327.2L346.8,329.1L348.0,330.3L345.6,332.7M369.3,327.4L369.3,329.1L370.5,330.3L369.9,334.5M370.5,330.3L374.1,330.9L374.5,333.9M380.8,327.8L382.0,330.9L380.8,332.7L383.8,335.1L385.0,335.7L386.2,333.9L389.9,333.3L393.5,335.1M383.8,335.1L380.8,341.2M385.0,335.7L386.8,339.4L390.5,344.2L391.9,348.5M386.8,339.4L389.9,338.8L391.9,340.0M390.5,344.2L387.4,343.9L387.0,346.6M383.8,353.3L385.6,354.2L386.5,353.7M321.4,310.5L323.2,310.9M326.8,306.3L330.5,306.6L332.9,309.6L337.7,308.4L342.6,309.0L343.8,311.5L348.0,310.9L348.7,312.7L351.7,313.3L349.3,316.3M327.9,315.8L335.3,315.3L338.4,312.7L340.8,310.3L342.6,309.0M343.8,311.5L340.2,316.3M320.2,305.9L320.8,303.0L319.0,302.4L319.6,300.5L324.4,298.7L329.3,299.9L336.5,299.3L336.5,295.7L345.0,294.5L351.7,295.7L355.3,295.7L359.6,299.6L363.2,299.3L368.0,301.5M351.7,313.3L353.5,312.1L357.1,311.5L359.6,309.6L359.6,306.6L362.6,306.3L363.2,304.2L366.2,304.2L368.0,301.5M368.0,301.5L371.7,299.9L376.5,299.9L381.4,298.1L386.2,298.7L392.3,300.5L397.1,301.2L400.8,300.5L403.8,300.8L404.4,303.0L402.6,303.2L407.7,304.7L404.4,304.8L398.3,306.5L397.1,308.4L391.1,310.3L385.0,309.6L379.0,309.3L377.7,307.2L372.9,306.0L371.7,303.6L368.0,301.5M403.8,300.8L407.4,300.5L409.3,296.5L415.3,297.2L417.1,300.8L421.4,303.3L426.2,302.5L423.8,306.6L421.4,306.7L421.0,309.9M413.3,312.8L415.3,310.9L418.0,310.3L421.0,309.9M415.9,315.7L418.3,314.7M433.5,364.4L433.5,372.2M404.4,356.1L403.2,355.7L402.0,357.6L400.8,359.4L398.3,359.4L395.4,358.9" fill="none" stroke="#fff" stroke-width="0.4" stroke-opacity="0.75"/>
<polygon points="58.3,268.9 60.9,273.5 55.6,273.5" fill="#7570b3" fill-opacity="0.82"/>
<polygon points="74.7,269.6 78.1,275.4 71.3,275.4" fill="#7570b3" fill-opacity="0.82"/>
<polygon points="158.8,266.4 162.5,272.8 155.2,272.8" fill="#1b9e77" fill-opacity="0.82"/>
<polygon points="175.5,268.2 179.2,274.6 171.8,274.6" fill="#1b9e77" fill-opacity="0.82"/>
<polygon points="197.9,270.4 201.6,276.8 194.2,276.8" fill="#1b9e77" fill-opacity="0.82"/>
<polygon points="199.6,273.0 202.8,278.6 196.3,278.6" fill="#1b9e77" fill-opacity="0.82"/>
<polygon points="198.9,278.2 202.3,284.0 195.5,284.0" fill="#1b9e77" fill-opacity="0.82"/>
<polygon points="194.8,281.9 198.3,287.9 191.3,287.9" fill="#1b9e77" fill-opacity="0.82"/>
<circle cx="242.3" cy="294.3" r="2.60" fill="#d95f02" fill-opacity="0.82"/>
<polygon points="264.6,259.4 272.4,273.0 256.8,273.0" fill="#d95f02" fill-opacity="0.82"/>
<polygon points="263.2,275.1 267.0,281.7 259.4,281.7" fill="#d95f02" fill-opacity="0.82"/>
<circle cx="316.2" cy="272.6" r="2.30" fill="#7570b3" fill-opacity="0.82"/>
<polygon points="343.6,259.8 347.8,267.0 339.5,267.0" fill="#7570b3" fill-opacity="0.82"/>
<polygon points="351.7,264.7 353.6,268.1 349.8,268.1" fill="#7570b3" fill-opacity="0.82"/>
<circle cx="355.3" cy="269.7" r="2.20" fill="#7570b3" fill-opacity="0.82"/>
<polygon points="359.2,262.7 361.1,265.9 357.3,265.9" fill="#7570b3" fill-opacity="0.82"/>
<polygon points="374.3,260.7 378.7,268.3 369.9,268.3" fill="#7570b3" fill-opacity="0.82"/>
<polygon points="404.8,262.2 408.1,268.0 401.5,268.0" fill="#7570b3" fill-opacity="0.82"/>
<polygon points="458.4,270.7 461.3,275.7 455.5,275.7" fill="#7570b3" fill-opacity="0.82"/>
<polygon points="475.3,270.6 478.8,276.6 471.9,276.6" fill="#7570b3" fill-opacity="0.82"/>
<circle cx="69.5" cy="322.3" r="1.75" fill="#1b9e77" fill-opacity="0.82"/>
<circle cx="70.8" cy="333.1" r="1.75" fill="#1b9e77" fill-opacity="0.82"/>
<circle cx="77.6" cy="347.0" r="1.60" fill="#7570b3" fill-opacity="0.82"/>
<circle cx="107.6" cy="317.8" r="1.80" fill="#1b9e77" fill-opacity="0.82"/>
<circle cx="114.7" cy="320.9" r="2.40" fill="#1b9e77" fill-opacity="0.82"/>
<circle cx="118.4" cy="339.7" r="2.00" fill="#1b9e77" fill-opacity="0.82"/>
<circle cx="121.0" cy="343.4" r="2.00" fill="#1b9e77" fill-opacity="0.82"/>
<circle cx="155.4" cy="329.6" r="2.00" fill="#e7298a" fill-opacity="0.82"/>
<circle cx="166.1" cy="324.5" r="2.00" fill="#e7298a" fill-opacity="0.82"/>
<polygon points="178.0,310.5 180.9,315.5 175.1,315.5" fill="#e7298a" fill-opacity="0.82"/>
<circle cx="174.1" cy="316.4" r="2.00" fill="#e7298a" fill-opacity="0.82"/>
<circle cx="176.3" cy="318.5" r="2.00" fill="#e7298a" fill-opacity="0.82"/>
<circle cx="181.8" cy="320.4" r="2.00" fill="#e7298a" fill-opacity="0.82"/>
<circle cx="185.0" cy="322.2" r="2.00" fill="#e7298a" fill-opacity="0.82"/>
<circle cx="202.1" cy="319.3" r="2.20" fill="#e7298a" fill-opacity="0.82"/>
<circle cx="217.4" cy="317.1" r="2.20" fill="#e7298a" fill-opacity="0.82"/>
<circle cx="227.5" cy="316.8" r="1.70" fill="#e7298a" fill-opacity="0.82"/>
<circle cx="242.3" cy="307.6" r="2.20" fill="#e7298a" fill-opacity="0.82"/>
<circle cx="165.6" cy="348.4" r="1.80" fill="#e7298a" fill-opacity="0.82"/>
<circle cx="166.7" cy="351.4" r="1.80" fill="#e7298a" fill-opacity="0.82"/>
<polygon points="254.8,313.7 257.2,317.9 252.4,317.9" fill="#7570b3" fill-opacity="0.82"/>
<circle cx="266.3" cy="311.2" r="1.90" fill="#1b9e77" fill-opacity="0.82"/>
<circle cx="265.1" cy="315.8" r="2.00" fill="#1b9e77" fill-opacity="0.82"/>
<circle cx="278.4" cy="312.3" r="1.90" fill="#1b9e77" fill-opacity="0.82"/>
<circle cx="284.5" cy="309.1" r="2.20" fill="#1b9e77" fill-opacity="0.82"/>
<circle cx="285.5" cy="311.7" r="2.20" fill="#1b9e77" fill-opacity="0.82"/>
<circle cx="287.4" cy="313.9" r="2.00" fill="#1b9e77" fill-opacity="0.82"/>
<circle cx="283.8" cy="314.6" r="2.20" fill="#1b9e77" fill-opacity="0.82"/>
<circle cx="281.6" cy="316.8" r="2.20" fill="#1b9e77" fill-opacity="0.82"/>
<circle cx="280.1" cy="319.0" r="2.20" fill="#1b9e77" fill-opacity="0.82"/>
<circle cx="279.4" cy="317.5" r="2.00" fill="#1b9e77" fill-opacity="0.82"/>
<circle cx="302.8" cy="319.4" r="1.90" fill="#1b9e77" fill-opacity="0.82"/>
<circle cx="305.3" cy="327.4" r="1.80" fill="#e7298a" fill-opacity="0.82"/>
<circle cx="308.3" cy="332.8" r="2.10" fill="#e7298a" fill-opacity="0.82"/>
<circle cx="309.6" cy="334.3" r="2.10" fill="#e7298a" fill-opacity="0.82"/>
<circle cx="311.2" cy="338.2" r="2.10" fill="#e7298a" fill-opacity="0.82"/>
<circle cx="339.5" cy="335.0" r="2.20" fill="#e7298a" fill-opacity="0.82"/>
<circle cx="341.0" cy="337.2" r="2.20" fill="#e7298a" fill-opacity="0.82"/>
<circle cx="342.8" cy="338.2" r="2.00" fill="#e7298a" fill-opacity="0.82"/>
<circle cx="345.3" cy="339.4" r="2.00" fill="#d95f02" fill-opacity="0.82"/>
<circle cx="347.8" cy="343.1" r="1.50" fill="#d95f02" fill-opacity="0.82"/>
<polygon points="352.0,352.2 354.8,357.0 349.2,357.0" fill="#d95f02" fill-opacity="0.82"/>
<circle cx="349.9" cy="360.4" r="1.80" fill="#d95f02" fill-opacity="0.82"/>
<polygon points="352.1,359.3 354.3,363.1 349.9,363.1" fill="#1b9e77" fill-opacity="0.82"/>
<circle cx="350.7" cy="362.6" r="1.80" fill="#1b9e77" fill-opacity="0.82"/>
<circle cx="351.4" cy="361.6" r="1.80" fill="#1b9e77" fill-opacity="0.82"/>
<circle cx="328.5" cy="381.0" r="1.90" fill="#1b9e77" fill-opacity="0.82"/>
<circle cx="328.8" cy="386.7" r="1.80" fill="#1b9e77" fill-opacity="0.82"/>
<circle cx="331.7" cy="386.7" r="1.80" fill="#1b9e77" fill-opacity="0.82"/>
<circle cx="317.6" cy="376.1" r="1.80" fill="#1b9e77" fill-opacity="0.82"/>
<circle cx="319.8" cy="376.5" r="1.80" fill="#1b9e77" fill-opacity="0.82"/>
<polygon points="314.7,379.3 316.9,383.1 312.5,383.1" fill="#e7298a" fill-opacity="0.82"/>
<circle cx="311.8" cy="387.4" r="1.90" fill="#e7298a" fill-opacity="0.82"/>
<circle cx="308.8" cy="396.2" r="1.90" fill="#e7298a" fill-opacity="0.82"/>
<circle cx="241.0" cy="371.1" r="1.60" fill="#d95f02" fill-opacity="0.82"/>
<circle cx="251.2" cy="371.8" r="2.00" fill="#d95f02" fill-opacity="0.82"/>
<circle cx="258.9" cy="385.5" r="2.10" fill="#e7298a" fill-opacity="0.82"/>
<circle cx="268.2" cy="398.1" r="2.20" fill="#e7298a" fill-opacity="0.82"/>
<polygon points="284.3,395.2 288.4,402.4 280.2,402.4" fill="#e7298a" fill-opacity="0.82"/>
<circle cx="284.9" cy="402.6" r="2.20" fill="#e7298a" fill-opacity="0.82"/>
<polygon points="294.8,400.0 297.7,405.0 291.9,405.0" fill="#e7298a" fill-opacity="0.82"/>
<circle cx="77.0" cy="352.7" r="1.80" fill="#7570b3" fill-opacity="0.82"/>
<circle cx="76.0" cy="360.7" r="2.20" fill="#e7298a" fill-opacity="0.82"/>
<circle cx="77.7" cy="368.8" r="2.20" fill="#e7298a" fill-opacity="0.82"/>
<polygon points="79.3,372.6 81.8,377.0 76.8,377.0" fill="#e7298a" fill-opacity="0.82"/>
<circle cx="89.6" cy="371.6" r="2.10" fill="#e7298a" fill-opacity="0.82"/>
<circle cx="91.4" cy="371.6" r="2.10" fill="#e7298a" fill-opacity="0.82"/>
<circle cx="93.2" cy="371.6" r="2.10" fill="#e7298a" fill-opacity="0.82"/>
<circle cx="94.6" cy="371.6" r="2.00" fill="#e7298a" fill-opacity="0.82"/>
<polygon points="92.6,367.5 94.8,371.3 90.4,371.3" fill="#e7298a" fill-opacity="0.82"/>
<polygon points="98.9,385.9 101.8,390.9 96.0,390.9" fill="#e7298a" fill-opacity="0.82"/>
<circle cx="105.5" cy="388.9" r="1.70" fill="#1b9e77" fill-opacity="0.82"/>
<circle cx="137.6" cy="353.1" r="1.60" fill="#1b9e77" fill-opacity="0.82"/>
<circle cx="147.4" cy="352.8" r="2.60" fill="#1b9e77" fill-opacity="0.82"/>
<circle cx="146.1" cy="376.2" r="2.30" fill="#1b9e77" fill-opacity="0.82"/>
<circle cx="140.8" cy="381.2" r="2.10" fill="#1b9e77" fill-opacity="0.82"/>
<circle cx="135.7" cy="386.4" r="1.80" fill="#1b9e77" fill-opacity="0.82"/>
<circle cx="127.3" cy="392.0" r="1.70" fill="#1b9e77" fill-opacity="0.82"/>
<circle cx="132.4" cy="394.8" r="1.60" fill="#1b9e77" fill-opacity="0.82"/>
<circle cx="139.9" cy="396.6" r="1.60" fill="#1b9e77" fill-opacity="0.82"/>
<circle cx="148.9" cy="398.6" r="2.00" fill="#1b9e77" fill-opacity="0.82"/>
<circle cx="156.9" cy="400.5" r="1.90" fill="#7570b3" fill-opacity="0.82"/>
<circle cx="160.1" cy="358.3" r="2.20" fill="#d95f02" fill-opacity="0.82"/>
<circle cx="160.1" cy="360.2" r="2.10" fill="#d95f02" fill-opacity="0.82"/>
<circle cx="160.1" cy="361.6" r="2.00" fill="#d95f02" fill-opacity="0.82"/>
<polygon points="160.1,360.5 162.7,365.1 157.5,365.1" fill="#d95f02" fill-opacity="0.82"/>
<polygon points="159.7,364.3 162.6,369.3 156.8,369.3" fill="#1b9e77" fill-opacity="0.82"/>
<polygon points="176.0,394.6 181.8,404.8 170.2,404.8" fill="#7570b3" fill-opacity="0.82"/>
<circle cx="169.3" cy="408.7" r="3.40" fill="#7570b3" fill-opacity="0.82"/>
<circle cx="219.9" cy="386.3" r="1.60" fill="#d95f02" fill-opacity="0.82"/>
<circle cx="210.3" cy="397.1" r="1.80" fill="#d95f02" fill-opacity="0.82"/>
<circle cx="199.6" cy="409.7" r="2.10" fill="#d95f02" fill-opacity="0.82"/>
<circle cx="199.0" cy="414.8" r="2.10" fill="#d95f02" fill-opacity="0.82"/>
<circle cx="192.3" cy="417.7" r="2.40" fill="#d95f02" fill-opacity="0.82"/>
<polygon points="184.3,424.2 186.7,428.2 182.0,428.2" fill="#d95f02" fill-opacity="0.82"/>
<polygon points="181.3,425.7 186.1,433.9 176.6,433.9" fill="#7570b3" fill-opacity="0.82"/>
<circle cx="189.0" cy="433.8" r="1.90" fill="#e7298a" fill-opacity="0.82"/>
<polygon points="194.6,429.4 202.2,442.6 187.0,442.6" fill="#7570b3" fill-opacity="0.82"/>
<circle cx="202.9" cy="436.3" r="1.90" fill="#7570b3" fill-opacity="0.82"/>
</g>
<rect x="22.4" y="249.6" width="493.6" height="212.8" fill="none" stroke="#333" stroke-width="1.1"/>
<line x1="20.0" y1="300.5" x2="22.4" y2="300.5" stroke="#333" stroke-width="0.9"/>
<text x="18.4" y="303.4" font-size="8.2" text-anchor="end" fill="#4d4d4d">50</text>
<line x1="20.0" y1="361.2" x2="22.4" y2="361.2" stroke="#333" stroke-width="0.9"/>
<text x="18.4" y="364.1" font-size="8.2" text-anchor="end" fill="#4d4d4d">0</text>
<line x1="20.0" y1="421.9" x2="22.4" y2="421.9" stroke="#333" stroke-width="0.9"/>
<text x="18.4" y="424.8" font-size="8.2" text-anchor="end" fill="#4d4d4d">-50</text>
<text x="267.7" y="245.9" font-size="10.5" font-weight="bold" text-anchor="middle" fill="#111">Surface</text>
<text transform="translate(8.0,361.7) rotate(-90)" font-size="8.6" text-anchor="middle" fill="#111">Latitude</text>
<clipPath id="clip1"><rect x="22.4" y="490.0" width="493.6" height="214.2"/></clipPath>
<g clip-path="url(#clip1)">
<path d="M59.0,521.9L61.2,521.1L64.1,521.3L66.5,520.7L64.2,519.6L62.1,519.0L60.4,518.7L61.4,517.9L64.4,517.3L66.4,516.2L69.9,515.6L72.9,514.9L76.0,515.5L78.4,515.6L80.8,516.0L83.2,516.2L88.1,516.5L91.7,517.1L95.3,517.6L99.0,517.2L101.4,517.1L106.3,516.6L109.3,517.2L111.7,516.3L115.9,517.2L119.6,517.8L124.4,518.7L126.9,519.3L131.7,518.8L134.1,518.0L137.8,519.0L141.4,519.3L143.8,518.7L146.2,519.0L147.5,517.2L146.2,515.4L148.1,514.3L149.9,515.4L151.1,516.6L153.5,517.8L155.9,518.7L158.4,518.4L159.6,517.2L162.0,517.0L163.2,517.8L163.8,519.6L162.0,521.1L158.6,520.8L157.2,522.7L155.3,523.9L152.9,524.5L150.7,525.9L148.7,527.5L147.9,529.3L148.4,530.2L149.9,531.8L150.5,532.4L153.5,532.4L155.9,533.0L159.6,534.4L162.9,534.5L162.9,537.2L163.8,538.2L165.0,539.3L166.2,539.0L167.0,538.4L167.3,535.4L169.3,534.2L169.8,532.4L168.7,530.5L168.1,528.1L168.7,525.8L171.7,525.9L174.1,526.1L176.5,527.1L178.4,527.5L178.4,529.3L178.4,530.2L180.2,530.4L182.6,530.5L183.8,529.3L184.4,528.4L185.6,529.9L187.5,531.8L188.1,533.0L189.9,534.5L193.2,536.0L194.7,537.5L195.1,538.2L193.5,539.2L189.9,540.6L185.0,540.6L182.0,540.9L179.6,541.8L177.2,543.9L176.3,544.7L178.4,543.5L180.8,542.1L183.8,541.8L184.7,542.3L184.1,543.5L183.8,544.7L185.0,545.5L188.1,546.1L189.9,545.5L190.1,545.8L188.7,546.6L185.6,547.4L182.9,548.7L182.4,547.5L184.4,546.6L182.6,546.7L181.4,547.4L179.6,547.8L177.5,548.5L177.0,549.8L177.8,550.8L175.9,551.3L173.5,551.9L172.9,552.4L172.9,553.6L171.7,554.4L171.0,555.6L170.5,556.7L171.1,558.7L169.8,559.5L168.1,560.4L166.6,561.2L164.4,562.7L163.9,564.5L164.9,566.9L165.5,569.4L165.2,570.9L164.2,570.7L163.2,569.1L162.2,567.5L161.3,565.2L159.2,565.5L157.8,564.6L155.9,564.4L154.1,564.9L154.2,566.3L152.9,566.1L150.5,565.6L147.8,565.8L145.6,567.2L144.8,567.9L144.6,570.1L144.2,572.4L144.2,574.2L144.8,576.3L145.9,578.2L148.1,579.4L151.1,578.9L152.3,578.5L153.0,576.0L154.7,575.5L157.2,575.4L156.6,577.2L155.7,579.1L155.6,582.1L156.6,582.3L159.6,582.2L161.8,583.3L161.0,586.9L161.3,588.3L163.2,590.6L165.0,590.5L166.2,589.9L168.8,590.9L169.0,592.0L168.2,592.8L167.5,591.4L165.6,592.6L164.4,592.0L163.2,591.6L161.3,591.2L158.7,589.4L158.6,587.9L156.6,585.7L154.1,585.1L151.3,584.2L148.7,582.1L145.6,582.5L141.5,581.1L137.2,579.3L134.6,576.6L135.0,575.3L133.6,573.4L131.1,570.6L128.2,567.7L125.9,564.6L123.5,562.9L123.9,565.1L125.9,567.3L127.5,570.0L128.9,572.1L130.0,573.4L129.4,573.7L127.2,571.8L126.6,570.0L124.2,568.5L123.0,567.5L122.4,564.7L121.3,562.9L120.7,562.1L119.1,560.5L116.4,559.7L114.9,557.1L114.1,555.6L112.6,553.7L111.8,552.5L112.1,550.6L112.2,548.1L112.3,545.5L111.5,542.8L113.5,543.0L113.4,542.1L111.1,540.5L108.1,539.6L107.5,537.8L105.0,535.6L103.8,534.2L102.6,533.0L100.2,531.8L99.0,530.8L97.2,530.9L96.0,529.9L93.3,529.2L89.3,528.7L85.6,527.9L83.2,528.6L81.5,529.0L78.5,529.7L80.6,527.3L77.8,528.7L76.0,529.9L73.5,531.4L70.5,533.0L67.5,534.3L64.4,535.1L66.3,533.8L69.9,531.8L71.7,530.3L68.7,530.3L66.3,529.0L63.2,528.1L62.1,527.4L62.9,525.4L67.5,524.5L67.5,523.3L65.0,523.3L62.3,523.3L60.8,522.7ZM168.8,590.9L170.5,590.0L171.1,588.8L172.7,587.9L175.1,587.1L175.7,586.5L176.1,588.0L175.5,588.8L176.5,588.4L177.8,586.8L178.4,587.6L179.8,588.8L182.6,588.6L185.0,588.5L187.5,588.5L188.7,589.6L188.9,591.2L191.1,592.0L192.1,593.3L193.5,594.2L195.9,594.2L197.8,594.7L199.6,595.6L200.5,596.4L202.0,599.3L201.4,601.3L203.8,603.0L206.8,602.7L209.3,604.4L211.7,604.9L214.1,605.0L215.9,606.0L217.8,607.4L219.9,608.2L220.4,610.6L219.9,612.4L218.4,614.2L217.2,615.8L215.9,617.3L215.3,619.7L215.1,622.7L214.5,625.2L213.8,626.4L212.9,628.2L211.7,629.3L210.2,629.4L208.1,630.1L205.6,631.2L203.8,633.0L203.7,636.1L202.0,638.1L200.8,639.7L199.0,641.5L197.8,643.0L196.1,643.8L194.5,643.8L192.5,643.2L191.8,643.5L193.0,644.3L193.9,645.7L192.9,647.7L191.1,648.4L187.5,648.8L187.1,650.6L183.8,651.2L185.0,653.1L183.8,654.3L183.2,656.1L180.8,657.3L182.6,659.1L182.6,659.7L179.6,662.3L179.0,664.0L179.7,665.1L179.6,665.8L180.8,667.6L183.5,668.1L181.4,668.5L179.6,668.8L177.2,668.2L175.3,667.0L172.3,665.2L171.1,662.1L171.1,659.7L172.3,657.9L171.0,658.3L172.9,654.9L172.7,653.1L173.3,651.2L173.5,647.6L173.9,646.4L174.7,644.6L175.7,641.5L175.9,637.9L176.2,635.5L177.2,631.8L177.4,628.2L177.5,623.9L175.9,622.7L174.1,621.5L171.1,619.7L170.1,617.9L169.0,616.1L167.7,613.6L166.2,611.2L164.9,608.8L164.1,607.3L165.4,605.7L164.7,604.0L165.0,602.1L165.6,600.5L167.0,599.8L168.7,598.3L168.9,596.6L168.7,593.9L168.2,592.8ZM174.1,506.3L177.8,508.1L180.2,509.3L187.5,509.3L192.3,509.9L194.1,511.7L195.3,513.6L196.5,515.4L198.4,516.3L200.2,517.8L198.4,519.6L197.8,520.8L199.0,522.7L200.2,524.1L202.0,526.3L203.8,527.5L206.8,528.4L209.3,529.0L211.1,528.1L211.7,526.9L212.9,525.1L213.8,523.3L216.5,522.0L220.2,521.1L223.8,519.0L228.7,518.5L232.3,517.6L235.3,516.2L235.9,514.8L235.9,513.6L237.8,512.3L239.6,511.1L239.0,509.3L240.2,508.1L238.4,505.7L241.4,504.2L246.8,503.0L243.2,502.0L235.9,501.4L226.2,500.3L214.1,500.2L202.0,501.2L192.3,502.0L187.5,502.6L183.8,503.5L181.4,504.5L176.5,505.4ZM233.5,522.0L235.9,521.0L240.8,521.2L245.0,521.1L246.2,522.4L244.4,523.5L240.2,524.6L235.3,524.1L235.9,523.3L233.5,522.3ZM153.5,512.3L158.4,512.0L163.2,512.1L168.1,513.2L171.7,513.8L175.3,514.8L179.6,516.0L181.4,517.6L182.0,519.0L186.2,520.2L188.3,520.7L186.9,522.0L184.4,523.3L183.8,524.8L184.2,525.6L182.0,526.3L179.6,525.7L176.5,525.2L173.5,523.4L170.5,523.6L168.3,523.3L172.9,522.0L174.1,520.8L174.1,519.6L171.1,518.5L169.3,517.6L165.6,516.8L162.6,516.8L159.6,516.3L155.9,515.9L154.1,514.8ZM118.4,514.8L119.6,513.0L124.4,512.2L131.7,512.2L136.6,512.6L140.2,513.6L140.8,516.6L137.8,518.3L131.7,518.7L124.4,518.7L120.2,517.4L118.4,516.0ZM110.5,514.4L110.5,511.7L113.5,511.1L120.8,511.4L122.6,512.6L119.6,514.4L114.7,515.4ZM145.0,514.4L140.2,513.0L141.4,512.0L145.0,511.7L149.3,512.6L146.9,514.2ZM148.7,513.9L146.9,513.0L149.3,511.6L152.3,512.2L151.1,513.6ZM144.4,510.5L140.2,509.9L140.8,508.7L145.0,508.3L146.2,509.6ZM158.4,523.9L162.0,524.5L165.0,524.1L163.8,522.7L160.2,521.4L156.6,522.7L155.9,523.6ZM190.6,543.8L191.8,541.9L193.3,539.0L195.3,538.9L195.2,541.1L197.8,541.8L198.8,543.8L198.1,544.9L197.2,544.2L195.3,544.6L194.5,543.8ZM107.0,539.9L109.9,540.5L113.0,542.8L111.3,542.5L108.1,540.9ZM102.6,536.0L103.8,537.8L103.1,538.2L101.4,536.6ZM185.0,545.1L187.5,545.2L186.9,545.7L185.0,545.7ZM159.6,574.9L160.8,574.0L163.2,573.5L165.6,573.6L168.1,574.3L170.5,575.9L172.7,577.0L171.1,577.4L168.9,577.4L168.4,576.4L167.5,575.4L163.8,574.7L160.2,575.1ZM172.4,579.2L174.4,577.4L177.8,577.6L179.8,578.9L176.4,580.2L174.4,579.5ZM167.7,579.2L170.1,579.4L169.5,579.8L168.3,579.8ZM181.2,579.1L183.1,579.2L183.0,579.7L181.2,579.7ZM255.8,557.8L257.1,557.0L260.1,557.0L262.0,555.0L262.8,554.4L262.2,553.6L263.7,551.8L266.5,550.7L266.4,549.3L268.1,548.9L269.9,549.2L271.7,548.4L273.3,547.6L275.0,548.2L275.9,549.9L277.5,550.9L279.6,551.8L281.6,553.0L282.0,554.8L281.5,555.4L282.6,554.8L283.3,553.8L282.6,552.7L284.2,552.5L285.0,552.9L283.8,551.9L282.0,550.7L279.8,550.2L279.1,548.7L277.5,547.5L277.5,546.6L279.2,546.1L280.8,546.9L281.5,548.2L283.8,549.3L286.0,550.7L286.1,552.5L287.1,553.6L288.3,555.6L289.7,557.2L290.5,556.0L291.7,555.4L290.5,554.2L290.1,552.4L291.7,552.1L294.1,552.0L294.8,552.6L294.4,553.6L295.1,554.9L295.7,556.6L297.1,557.1L299.7,556.9L302.0,557.7L303.8,557.5L306.1,557.0L306.0,558.4L306.1,559.7L305.6,560.5L305.0,561.7L304.4,563.3L304.1,563.5L304.9,565.7L306.8,569.4L308.7,572.4L310.1,575.4L312.0,578.5L314.1,581.5L315.0,585.1L315.3,586.1L317.1,586.0L321.4,584.5L325.6,582.5L329.3,580.3L331.7,578.7L333.5,576.6L335.1,574.2L333.5,572.9L331.7,572.4L330.8,569.5L329.9,570.6L328.0,572.1L325.6,572.4L325.0,570.6L324.8,569.8L324.2,571.4L323.4,569.4L322.6,568.1L321.4,566.9L320.8,565.1L322.6,565.1L323.8,566.3L325.0,567.8L328.0,569.2L331.1,568.6L332.3,570.3L337.1,570.9L340.2,570.8L343.3,570.7L344.4,572.4L345.6,573.0L347.4,573.8L346.2,574.5L348.0,576.3L350.5,575.4L350.8,578.5L351.7,582.1L352.9,584.5L353.5,586.9L355.0,589.5L356.5,591.7L357.4,590.6L358.7,589.0L359.4,586.9L359.9,585.6L359.8,582.7L362.3,581.4L364.4,579.3L367.4,577.2L368.0,575.4L369.9,575.1L371.7,574.8L373.9,574.5L374.5,576.4L376.3,578.5L376.9,582.1L378.1,582.3L380.8,581.5L381.0,583.5L382.0,586.9L381.7,590.0L381.7,591.8L384.0,593.6L384.4,596.0L385.4,598.0L388.0,599.9L388.9,599.7L387.9,596.3L386.5,594.0L385.0,593.1L384.2,591.3L382.8,589.0L383.3,586.3L384.4,585.1L385.0,586.2L387.0,586.9L387.4,588.2L389.3,588.9L389.9,591.1L391.7,590.0L392.9,588.8L395.0,587.6L395.1,585.1L394.5,582.9L391.9,580.3L390.7,578.5L391.7,576.6L393.5,575.4L395.7,575.5L396.2,576.9L396.5,575.8L400.2,574.6L403.2,573.7L405.0,572.8L407.4,570.6L408.0,569.0L409.9,566.9L410.5,565.2L410.3,563.9L409.1,562.0L407.4,559.7L408.4,557.8L411.1,556.1L408.9,555.6L406.7,556.0L405.6,554.4L405.3,554.2L407.4,553.1L409.9,552.0L410.5,552.6L409.5,554.4L411.1,553.6L413.3,553.1L414.3,554.6L415.9,556.0L415.8,559.0L417.1,559.5L419.3,558.8L419.4,557.2L418.3,555.0L417.1,553.2L419.8,552.0L421.0,550.2L422.6,549.1L426.5,548.4L429.9,545.1L432.6,542.7L432.9,539.6L433.9,537.2L429.2,536.0L426.6,535.1L428.6,533.0L432.9,530.9L435.9,529.6L440.8,529.4L445.6,529.7L449.9,529.6L450.5,526.9L455.9,526.7L456.5,526.9L454.1,531.1L452.5,532.4L451.4,534.8L452.4,539.6L454.7,537.6L456.5,535.8L459.1,533.5L460.5,531.1L462.0,529.0L463.8,528.4L468.6,528.7L471.7,527.5L473.5,526.5L477.1,525.7L480.2,523.3L478.9,523.0L480.8,522.7L484.4,522.3L489.0,523.4L491.1,522.2L493.2,521.4L490.5,520.2L485.6,519.5L480.8,517.9L474.7,516.8L469.2,516.5L463.8,517.1L457.7,517.1L456.5,515.6L446.8,515.5L440.8,513.8L432.3,513.6L426.2,514.8L420.2,515.4L417.7,513.6L417.1,512.3L412.9,512.3L405.6,512.3L400.2,512.3L398.3,511.7L395.9,511.7L399.0,509.3L392.3,507.5L389.0,507.2L383.8,508.7L380.2,509.3L375.3,509.4L369.9,510.0L367.4,511.7L362.0,512.3L360.4,513.6L360.2,514.8L357.1,513.8L354.1,513.2L350.5,513.3L347.4,512.6L345.6,514.8L343.8,517.2L342.6,517.8L335.3,517.8L332.9,518.4L328.0,518.8L324.4,518.5L315.9,518.4L315.3,521.2L312.3,520.7L308.7,521.3L305.0,523.3L306.2,524.0L311.1,523.3L312.9,521.3L312.3,519.4L308.7,518.0L302.6,517.3L299.0,516.8L292.9,515.3L288.1,516.3L283.2,517.2L279.6,519.0L277.8,521.4L275.3,523.3L271.1,525.3L268.7,526.9L268.7,528.7L269.4,530.1L271.1,531.1L272.5,530.9L275.4,529.2L275.9,530.1L276.7,530.8L278.1,533.2L279.6,534.3L282.0,533.5L282.6,531.8L284.4,529.9L285.0,529.3L283.6,527.9L283.8,525.7L287.4,524.1L289.3,522.0L292.3,521.7L293.4,522.7L290.5,524.2L288.4,525.7L288.7,527.7L290.5,529.0L292.9,528.5L296.5,528.1L299.0,528.7L296.5,529.3L291.7,529.6L291.1,530.5L292.1,531.8L291.8,532.4L289.3,531.8L288.1,532.6L288.2,534.2L286.2,535.5L285.0,535.3L282.6,535.4L279.9,536.1L277.8,535.5L275.9,536.0L275.3,535.4L274.5,534.8L275.3,534.2L275.1,533.2L275.4,531.5L272.4,532.7L273.0,534.2L273.1,534.9L273.0,536.1L271.7,536.5L270.1,536.7L268.4,537.2L267.8,538.4L266.8,539.2L265.6,539.5L264.5,540.6L262.8,541.3L261.1,541.6L260.7,541.2L260.7,542.4L259.0,542.3L256.9,542.8L257.4,543.5L259.6,544.1L261.1,545.5L261.1,547.4L260.8,548.9L258.0,548.9L254.1,548.6L252.7,548.9L251.3,549.5L251.8,550.8L252.1,552.4L251.1,554.6L251.9,555.5L251.7,556.6L253.5,556.4L254.8,556.9ZM255.4,558.1L260.2,558.9L262.6,558.1L266.2,556.9L269.9,556.6L274.5,556.3L275.9,556.5L275.3,557.8L275.9,558.8L274.8,560.0L275.1,560.7L276.5,561.3L278.6,561.6L281.3,562.3L281.4,563.3L284.4,564.5L286.2,564.7L287.0,563.9L287.0,562.4L288.7,561.6L290.5,562.0L292.9,563.0L297.7,564.0L300.2,563.3L301.7,563.5L304.1,563.5L304.9,565.7L304.1,567.8L302.6,565.7L302.1,565.2L303.2,568.7L304.4,571.2L305.6,573.0L307.3,574.8L307.8,577.8L309.3,579.7L310.2,582.3L311.7,583.9L314.1,586.2L315.1,587.6L316.5,588.9L320.8,587.9L324.7,587.2L324.4,588.9L323.8,591.2L321.4,595.4L318.4,599.1L315.3,602.1L313.0,603.6L311.1,605.7L310.1,607.2L309.6,609.4L310.5,611.2L311.4,614.2L311.8,619.1L311.1,621.3L307.4,623.0L305.6,624.5L305.4,628.2L305.6,630.6L302.6,632.4L302.1,633.0L302.5,635.7L300.5,637.3L299.0,639.1L296.5,641.3L293.7,642.7L289.3,643.0L286.8,643.7L285.0,643.1L284.8,641.5L284.3,639.7L282.6,636.2L280.9,633.9L280.2,629.4L278.7,626.4L276.9,622.5L277.5,619.1L279.0,616.7L278.6,612.4L277.5,608.8L276.9,607.3L274.2,603.9L273.9,600.9L274.4,597.3L273.0,596.0L269.9,596.3L268.1,593.9L265.6,593.7L262.6,594.6L260.2,595.7L257.8,595.2L253.5,596.2L251.1,594.8L248.7,593.1L246.6,591.2L246.2,590.0L244.4,588.4L242.4,586.5L241.4,583.7L242.6,581.5L243.0,578.5L242.0,576.3L242.6,574.2L244.4,571.8L245.1,569.7L246.8,567.9L249.3,566.7L250.7,565.1L250.8,562.7L252.3,561.1L254.4,560.3ZM322.4,616.1L323.8,620.3L322.6,622.7L321.4,626.4L320.2,630.0L319.6,631.8L317.1,632.4L315.6,630.0L315.1,627.6L316.4,625.2L315.9,622.1L318.4,620.7L320.5,618.5ZM255.7,540.7L258.4,540.5L261.4,540.0L264.3,539.4L264.7,537.7L263.0,536.6L262.0,535.4L260.8,534.2L259.9,533.2L260.4,531.8L258.4,531.5L259.0,530.4L256.5,530.4L255.7,531.8L255.7,533.2L256.5,533.9L256.5,535.0L258.6,534.9L258.5,535.8L259.0,536.7L257.1,536.8L257.5,537.5L257.1,538.2L256.2,538.7L258.4,539.0L259.0,539.4L257.5,539.4ZM255.3,538.4L255.1,536.7L255.3,535.4L255.1,534.5L253.5,534.4L252.3,535.4L250.5,535.8L250.6,536.7L251.1,537.8L250.1,538.5L251.0,539.0L252.9,538.7L255.0,538.2ZM277.6,555.6L279.0,555.2L281.5,555.0L280.9,557.0L279.9,556.6ZM272.5,551.9L274.2,551.6L274.4,554.0L273.0,554.3L272.8,553.2ZM273.0,549.9L274.0,549.3L274.1,550.6L273.8,551.3L273.0,550.8ZM291.1,558.6L294.5,558.7L294.1,559.0L291.7,559.0ZM301.7,559.0L304.5,558.2L303.8,559.2L302.6,559.5ZM275.9,506.3L278.4,505.1L282.0,504.5L289.3,504.0L295.3,504.5L289.3,506.3L284.4,507.5L282.0,508.7L279.6,507.7ZM325.0,514.8L327.4,515.7L332.3,515.9L330.5,513.7L334.1,511.4L339.0,509.8L346.0,508.2L343.8,508.0L336.5,508.9L331.1,511.1L328.0,512.6L326.8,513.6ZM320.8,504.1L329.3,504.5L335.3,504.2L339.0,503.2L329.3,502.3L318.4,503.2ZM374.1,506.3L379.0,506.5L383.8,506.5L389.9,505.1L383.8,503.0L377.7,503.2L374.1,503.9ZM427.4,511.1L431.1,512.0L434.7,512.0L440.8,511.1L444.4,510.5L439.6,509.3L433.5,509.3L428.6,509.3ZM478.9,515.4L483.8,515.1L482.0,514.6L479.5,514.8ZM434.7,545.7L436.5,545.1L436.2,542.1L437.5,542.1L435.9,538.4L435.9,535.6L435.1,535.6L434.3,538.4L434.9,540.9L434.6,543.3L434.6,545.0ZM421.3,560.3L423.2,559.9L426.2,559.5L426.3,560.7L427.2,560.9L428.5,559.9L430.8,559.5L432.3,558.9L433.2,558.2L433.5,556.0L434.7,553.6L434.1,551.3L432.3,551.5L432.3,553.0L431.7,555.0L430.5,556.0L429.0,556.0L428.3,557.2L426.8,558.3L423.8,558.4L422.0,559.5ZM432.3,551.2L433.7,550.8L436.2,550.6L438.9,549.0L438.7,547.8L434.7,546.3L434.1,548.1L432.8,549.1L432.3,549.9ZM419.8,561.2L421.3,560.4L422.5,561.1L421.9,563.4L420.9,563.9L420.2,562.4ZM423.2,561.1L425.0,559.9L425.9,560.5L423.8,561.8ZM408.2,573.6L409.3,570.8L410.3,571.2L409.9,573.0L409.0,574.9ZM394.3,578.2L396.5,577.1L397.1,577.7L395.3,579.4ZM408.0,582.1L408.8,579.1L410.7,579.1L410.7,580.9L409.9,582.7L412.9,584.8L412.3,586.1L409.3,584.8L408.8,583.9ZM410.5,593.0L412.3,591.2L414.7,589.6L415.9,592.4L414.7,594.6L412.9,593.3ZM410.3,587.2L414.7,587.6L414.1,589.4L411.7,590.0L410.5,588.8ZM404.6,591.4L407.6,587.9L407.8,588.4L405.0,591.8ZM395.4,599.2L394.7,601.5L396.2,605.0L398.0,605.3L399.6,605.4L401.4,605.7L403.4,606.2L403.8,603.9L405.0,601.4L405.5,599.3L406.7,595.7L407.1,594.9L405.3,593.7L404.4,593.0L403.2,593.9L402.3,595.1L400.8,596.0L399.3,597.9L397.1,599.7ZM378.1,594.7L380.8,595.2L384.2,598.8L387.9,602.6L389.3,604.3L391.1,605.4L391.0,608.5L389.4,608.7L386.6,606.4L385.0,604.5L384.2,602.5L382.3,599.4L380.4,597.6ZM390.1,609.7L391.1,608.7L393.9,609.0L396.4,609.9L399.1,609.9L401.3,610.8L401.4,612.1L398.3,611.6L394.7,611.0L391.6,610.5ZM402.0,611.6L406.8,611.4L410.5,611.4L411.7,611.7L410.5,612.3L406.8,612.3L403.2,612.4ZM412.3,614.0L414.1,612.4L416.9,611.7L414.1,613.1ZM407.3,608.2L407.6,605.7L406.6,604.8L407.8,601.4L408.2,600.5L411.7,600.4L414.1,599.6L413.3,601.0L409.9,600.9L409.6,602.6L412.2,602.6L409.9,603.8L411.4,607.0L409.9,607.2L409.1,604.7L408.5,608.2ZM417.1,599.1L418.3,599.7L417.7,601.5L418.7,602.5L417.5,602.1L417.0,600.3ZM417.7,605.4L421.1,605.6L420.2,606.2L418.3,605.9ZM421.4,603.1L423.2,602.0L425.0,602.6L426.2,605.5L429.6,603.3L433.5,604.7L437.7,606.1L439.3,607.9L441.4,608.8L440.9,610.6L442.6,612.4L445.0,614.1L443.2,614.0L440.8,613.6L439.6,611.2L437.1,610.8L436.3,612.4L433.5,612.5L431.1,611.3L429.9,611.7L429.6,607.9L426.8,606.8L425.0,606.2L423.6,606.5L422.6,605.0L424.4,604.4L422.6,603.8ZM442.6,608.2L445.0,607.6L446.8,606.6L447.1,607.6L444.4,609.0L442.6,608.8ZM401.7,627.9L403.8,626.6L406.8,625.8L409.3,625.2L410.8,623.3L412.3,621.5L414.1,619.7L415.9,618.5L417.7,619.9L419.6,619.6L420.5,616.8L422.6,615.2L423.8,615.8L426.8,616.1L428.4,616.3L426.8,619.3L428.0,620.7L431.4,622.6L433.2,622.7L434.1,619.7L434.2,616.8L435.3,614.5L436.5,617.0L437.7,618.8L438.8,620.9L439.8,624.4L442.9,626.1L445.4,628.8L448.2,631.8L448.8,635.7L448.2,638.5L447.4,640.9L446.0,642.6L444.4,646.4L444.3,647.0L441.4,647.6L439.9,648.9L437.7,647.8L436.5,648.6L433.5,647.7L431.9,646.6L431.4,644.8L430.2,644.7L430.5,643.5L429.5,644.0L429.2,642.1L427.4,643.7L426.5,641.5L425.0,640.8L421.4,639.7L417.7,640.3L412.9,641.5L412.3,642.6L408.0,642.6L405.6,644.0L403.2,644.0L402.0,643.1L402.8,641.9L402.9,640.3L402.0,637.3L400.9,634.9L400.0,633.0L400.5,631.2L400.0,628.2ZM438.0,650.9L442.3,651.1L442.3,652.7L440.8,654.4L438.7,652.9ZM471.9,643.2L474.1,644.9L475.7,646.4L478.9,647.2L478.2,649.0L476.9,650.0L475.1,652.0L474.2,651.5L474.7,649.9L473.2,649.0L474.5,647.6L473.9,645.8ZM471.9,650.6L473.7,651.8L472.6,653.7L472.0,654.6L470.1,655.5L469.4,657.2L467.4,658.0L464.4,657.3L465.0,655.8L466.6,654.9L469.2,653.5L470.3,652.2L471.1,650.9ZM359.3,591.8L359.8,589.6L361.9,592.4L361.0,594.0L359.6,594.1ZM188.3,663.7L192.3,663.7L192.5,664.3L189.9,664.8L188.4,664.3ZM216.5,667.0L219.0,667.2L218.4,667.7ZM346.0,660.9L348.0,661.1L347.4,661.8L346.2,661.7ZM44.4,710.7L44.4,705.8L56.6,704.6L63.6,699.3L68.7,698.1L77.2,695.6L86.9,694.2L96.0,692.7L111.1,691.5L123.2,691.3L133.9,689.9L145.0,688.4L153.5,689.2L159.6,689.6L168.1,688.2L171.7,686.2L177.8,684.7L182.6,683.0L186.2,681.8L188.7,682.2L187.5,685.2L188.7,688.8L192.3,692.5L195.9,694.9L202.0,696.8L210.5,697.1L216.5,695.5L219.0,693.8L226.2,692.5L238.4,690.7L247.7,689.4L256.5,688.2L262.6,687.4L271.1,686.7L280.1,686.0L289.3,685.9L298.0,685.2L305.0,685.0L311.1,684.5L319.6,682.8L328.3,681.4L335.3,683.4L343.4,687.1L349.9,685.6L358.7,682.3L365.6,681.9L377.7,681.7L392.8,681.2L402.0,681.8L414.1,682.5L430.8,683.7L438.3,684.2L446.8,685.2L457.2,687.1L463.8,688.0L468.6,689.0L469.9,693.7L471.1,704.6L492.9,705.8L492.9,710.7Z" fill="#cbcbcb"/>
<path d="M113.5,509.1L119.6,507.1L129.3,506.0L141.4,504.5L151.1,502.9L159.6,501.7L171.7,500.8L187.5,501.1L187.5,502.3L180.2,503.9L174.1,505.7L169.3,506.9L166.9,508.8L163.2,509.4L153.5,509.8L145.0,510.2L135.3,510.2L126.9,510.2L119.6,509.8Z" fill="#d2d2d2"/>
<path d="M296.5,551.5L297.3,548.7L299.0,546.3L300.8,545.0L303.2,545.7L302.6,546.9L303.3,547.6L305.6,546.9L306.8,546.6L308.7,544.6L309.9,544.5L308.1,546.3L309.3,547.8L311.1,548.9L312.9,551.0L311.1,551.9L307.4,551.5L305.0,550.6L302.6,550.7L300.2,551.5L297.7,551.5ZM319.6,547.5L320.2,546.2L322.0,545.1L324.4,544.5L326.8,544.7L326.8,546.6L324.8,547.5L324.4,549.3L326.5,550.6L326.8,552.4L327.8,554.2L327.9,556.1L325.0,557.0L322.6,556.0L321.9,554.8L322.6,552.7L321.4,550.8L320.2,549.3ZM333.3,545.7L336.5,545.1L337.1,546.9L334.7,548.1L333.3,546.9Z" fill="#fff"/>
<path d="M64.4,535.1L61.4,536.0L58.4,537.0L55.3,537.7L51.7,538.3L48.1,538.7L44.4,538.8" fill="none" stroke="#cbcbcb" stroke-width="0.7" stroke-dasharray="2 0.8"/>
<path d="M80.8,699.1L95.3,698.8M111.1,699.3L126.9,699.6M117.2,696.4L131.7,695.9M147.5,695.5L158.4,695.9M175.3,689.8L182.6,688.2M192.3,698.5L202.0,700.0M214.1,699.1L226.2,699.8" fill="none" stroke="#fff" stroke-width="0.7" stroke-opacity="0.6"/>
<path d="M91.7,517.1L91.7,528.4L96.0,529.9M113.4,542.1L147.2,542.1L154.1,543.3L160.2,545.1L162.6,546.9L162.0,550.6L166.9,549.0L169.9,547.9L172.1,546.9L175.9,546.9L178.7,544.0L180.4,544.4L181.4,546.9M120.7,562.1L123.5,562.1L128.1,563.5L131.5,563.5L133.5,562.9L135.9,565.6L137.8,566.3L139.7,565.4L142.0,568.1L144.6,570.1M150.9,583.9L152.3,579.9L154.6,579.9L155.7,579.1M177.8,586.8L174.7,592.4L180.8,594.0L181.4,599.7L177.8,606.6L174.1,604.5L171.3,601.6L167.0,599.8M189.9,591.2L188.7,595.2L189.9,600.3L194.7,599.1L199.6,599.1M177.8,606.6L173.5,610.6L174.7,613.6L179.0,614.8L178.6,620.3L178.4,622.7L177.5,623.9M165.4,605.7L168.1,605.1L171.3,601.6M179.0,614.8L183.8,613.6L189.9,617.9L192.3,621.3L192.3,625.8L187.5,628.5L181.4,628.8L178.4,622.7M181.4,628.8L179.6,633.0L177.8,637.9L177.8,644.0L175.9,650.0L175.3,656.1L174.1,662.1L179.0,664.6M192.3,625.8L192.3,628.2L196.5,632.4L192.9,634.9L191.7,634.6L187.5,628.5M196.5,632.4L197.4,634.5L192.9,638.1L197.8,642.4M192.9,638.1L191.8,642.1M260.2,558.9L260.8,562.7L252.1,567.9L246.8,567.9M252.1,567.9L252.1,570.6L248.1,573.0L246.8,575.7L242.0,575.7M248.1,573.0L256.5,571.4L264.1,576.0L267.4,578.2L277.1,573.0L280.8,573.6L291.7,577.2L291.7,574.8L292.9,574.8L307.3,574.8M274.1,565.1L274.1,569.4L275.0,571.8L277.1,573.0M276.5,561.3L274.1,565.1L272.3,563.9L272.9,557.2M292.9,563.0L292.9,574.8M291.7,577.2L291.7,591.2L289.9,596.0L282.0,596.6L280.2,585.7L280.8,573.6M289.9,596.0L295.9,595.4L300.2,597.3L305.0,596.0L303.8,590.0L306.8,584.2L309.3,579.7M267.4,578.2L266.8,582.7L263.2,583.3L255.9,582.7L248.7,582.7L247.7,583.7L242.4,586.5M266.8,582.7L267.4,585.1L273.5,586.0L280.2,585.7M265.9,593.7L266.8,587.6L263.2,588.2L259.0,588.2L255.9,588.8L252.9,589.4L248.7,593.1M259.0,588.2L259.0,595.4M263.2,588.2L262.6,594.6M252.9,589.4L253.5,596.2M274.1,596.6L274.7,594.2L277.1,593.0L280.2,589.4L280.2,585.7M282.0,596.6L282.0,599.1L279.6,599.7L276.3,598.8L274.5,598.7M282.0,599.1L283.8,602.7L282.6,606.4L277.5,608.8M283.8,602.7L289.3,607.0L292.3,615.4L289.3,617.3L289.3,621.5L286.8,623.3L277.1,622.5M300.2,597.3L299.0,602.7L298.4,607.0L299.6,611.8L297.1,611.8L292.3,615.4M299.0,602.7L303.8,602.7L313.0,603.6M305.0,596.0L312.3,596.6L313.0,603.6M312.3,596.6L315.9,595.7L320.8,591.8L315.1,587.6M299.6,611.8L303.2,613.0L311.4,614.2M303.2,613.0L305.0,618.5L302.6,622.1L299.0,620.3L289.3,621.5M305.0,618.5L305.6,624.5M302.6,622.1L302.0,628.2L297.7,628.4L294.1,631.2L286.8,631.2L286.8,636.1L282.6,636.2M286.8,623.3L286.8,631.2M301.4,628.5L301.4,633.0M264.8,549.9L260.8,548.9M254.1,550.7L254.7,553.0L253.8,554.8L253.5,556.4M265.6,539.5L269.6,541.5L272.5,542.1L271.8,543.8L269.9,545.5L271.1,548.1L271.7,548.4M270.1,536.7L270.8,538.5L269.9,540.0L269.6,541.5M271.8,543.8L275.3,543.9L278.4,543.9L280.2,542.7L277.8,540.5L280.8,539.6L279.9,536.1M278.4,543.9L279.2,546.1M271.1,545.8L275.3,545.1L277.8,544.9L279.2,546.1M280.8,539.6L285.4,541.5L289.9,541.8L291.7,540.2L291.1,536.2L290.5,535.5L288.2,534.2M280.2,542.7L283.2,543.3L289.9,542.9L289.9,541.8M283.2,543.3L282.0,545.1L279.2,546.1M289.9,542.9L294.7,542.9L296.8,546.3L298.6,546.7M289.9,542.9L288.1,545.7L290.1,547.9L294.1,548.4L297.3,548.5M282.0,545.1L285.6,545.8L288.1,545.7M285.6,545.8L286.0,550.7M290.1,547.9L289.9,550.3L290.1,552.4M294.1,548.4L289.9,550.3L287.8,551.9L287.1,553.6M294.8,552.6L296.5,550.7M291.7,540.2L299.0,539.0L305.0,538.4L311.1,541.5L309.3,544.1M291.1,536.2L296.5,533.6L300.8,537.8L299.0,539.0M296.5,533.6L296.5,528.1M292.1,531.8L295.9,531.6M288.2,534.2L294.7,533.9L296.5,533.6M296.5,528.1L299.0,525.1L298.4,520.2L297.1,517.8L292.9,518.3L288.1,517.8M288.1,517.8L284.4,519.0L280.2,522.7L277.1,527.5L275.9,530.1M292.3,521.7L291.7,518.3L288.1,517.8M311.1,548.9L315.3,550.6L319.0,551.4L321.4,550.8M315.3,550.6L315.9,553.6L319.0,554.3L321.9,554.8M306.2,556.9L313.5,556.4L316.5,556.4L315.9,553.6M313.5,556.4L312.3,559.7L309.9,562.7L307.2,562.3L305.6,561.3M312.3,559.7L309.6,561.0L307.4,563.3L309.9,565.1L307.4,565.7L305.0,565.7M316.5,556.4L318.4,559.0L320.8,565.1M309.9,562.7L315.9,566.1L320.2,566.3L320.8,565.1M309.6,561.0L311.1,562.7L315.9,566.1M315.3,580.5L318.4,580.5L325.6,578.5L329.3,577.2L330.1,574.8L326.2,574.2L325.0,571.8M325.6,578.5L326.8,581.4M330.1,574.8L330.8,571.8M327.9,556.1L331.7,555.4L336.5,557.2L336.5,559.7L335.9,565.1L337.1,565.7L339.0,569.4L337.1,570.9M336.5,557.2L340.2,556.6L344.4,556.3L349.3,556.6L352.9,556.6L349.3,558.4L348.7,560.3L346.8,560.9L346.2,563.3L343.2,565.1L337.7,565.7L335.9,565.1M352.9,556.6L353.5,559.0L357.1,558.4L358.3,562.1L357.7,563.9L360.8,564.9L365.6,567.2L369.3,567.7L374.1,568.1L379.6,566.3L380.8,568.1L377.7,569.4L376.5,573.0L375.3,574.2L374.5,576.4M352.9,556.6L351.7,560.3L352.3,562.1L353.5,562.7L352.9,563.9L349.9,567.5L347.4,567.5L346.8,569.4L348.0,570.6L345.6,573.0M369.3,567.7L369.3,569.4L370.5,570.6L369.9,574.8M370.5,570.6L374.1,571.2L374.5,574.2M380.8,568.1L382.0,571.2L380.8,573.0L383.8,575.4L385.0,576.0L386.2,574.2L389.9,573.6L393.5,575.4M383.8,575.4L380.8,581.5M385.0,576.0L386.8,579.7L390.5,584.5L391.9,588.8M386.8,579.7L389.9,579.1L391.9,580.3M390.5,584.5L387.4,584.2L387.0,586.9M383.8,593.6L385.6,594.5L386.5,594.0M321.4,550.8L323.2,551.2M326.8,546.6L330.5,546.9L332.9,549.9L337.7,548.7L342.6,549.3L343.8,551.8L348.0,551.2L348.7,553.0L351.7,553.6L349.3,556.6M327.9,556.1L335.3,555.6L338.4,553.0L340.8,550.6L342.6,549.3M343.8,551.8L340.2,556.6M320.2,546.2L320.8,543.3L319.0,542.7L319.6,540.9L324.4,539.0L329.3,540.2L336.5,539.6L336.5,536.0L345.0,534.8L351.7,536.0L355.3,536.0L359.6,539.9L363.2,539.6L368.0,541.8M351.7,553.6L353.5,552.4L357.1,551.8L359.6,549.9L359.6,546.9L362.6,546.6L363.2,544.5L366.2,544.5L368.0,541.8M368.0,541.8L371.7,540.2L376.5,540.2L381.4,538.4L386.2,539.0L392.3,540.9L397.1,541.5L400.8,540.9L403.8,541.1L404.4,543.3L402.6,543.5L407.7,545.0L404.4,545.1L398.3,546.8L397.1,548.7L391.1,550.6L385.0,549.9L379.0,549.6L377.7,547.5L372.9,546.3L371.7,543.9L368.0,541.8M403.8,541.1L407.4,540.9L409.3,536.8L415.3,537.5L417.1,541.1L421.4,543.6L426.2,542.8L423.8,546.9L421.4,547.0L421.0,550.2M413.3,553.1L415.3,551.2L418.0,550.6L421.0,550.2M415.9,556.0L418.3,555.0M433.5,604.7L433.5,612.5M404.4,596.4L403.2,596.0L402.0,597.9L400.8,599.7L398.3,599.7L395.4,599.2" fill="none" stroke="#fff" stroke-width="0.4" stroke-opacity="0.75"/>
<polygon points="58.1,508.7 61.2,514.1 55.0,514.1" fill="#7570b3" fill-opacity="0.82"/>
<circle cx="74.5" cy="513.8" r="2.50" fill="#7570b3" fill-opacity="0.82"/>
<polygon points="158.7,506.7 162.8,513.9 154.5,513.9" fill="#1b9e77" fill-opacity="0.82"/>
<circle cx="175.4" cy="513.1" r="3.10" fill="#1b9e77" fill-opacity="0.82"/>
<circle cx="197.6" cy="515.1" r="2.50" fill="#1b9e77" fill-opacity="0.82"/>
<circle cx="199.8" cy="517.0" r="2.30" fill="#1b9e77" fill-opacity="0.82"/>
<circle cx="198.3" cy="522.4" r="2.40" fill="#1b9e77" fill-opacity="0.82"/>
<circle cx="194.7" cy="526.2" r="2.40" fill="#1b9e77" fill-opacity="0.82"/>
<circle cx="264.7" cy="508.7" r="5.80" fill="#d95f02" fill-opacity="0.82"/>
<polygon points="263.1,515.4 267.1,522.4 259.1,522.4" fill="#d95f02" fill-opacity="0.82"/>
<circle cx="242.3" cy="535.0" r="2.80" fill="#d95f02" fill-opacity="0.82"/>
<polygon points="316.4,508.0 320.9,515.8 311.8,515.8" fill="#7570b3" fill-opacity="0.82"/>
<circle cx="343.3" cy="505.3" r="3.30" fill="#7570b3" fill-opacity="0.82"/>
<circle cx="351.6" cy="507.2" r="1.70" fill="#7570b3" fill-opacity="0.82"/>
<polygon points="355.3,506.1 359.3,513.1 351.3,513.1" fill="#7570b3" fill-opacity="0.82"/>
<polygon points="359.5,499.0 365.2,508.8 353.8,508.8" fill="#7570b3" fill-opacity="0.82"/>
<polygon points="374.2,501.0 378.8,509.0 369.6,509.0" fill="#7570b3" fill-opacity="0.82"/>
<circle cx="404.4" cy="506.5" r="3.00" fill="#7570b3" fill-opacity="0.82"/>
<circle cx="458.0" cy="514.2" r="2.30" fill="#7570b3" fill-opacity="0.82"/>
<circle cx="475.3" cy="514.8" r="2.50" fill="#7570b3" fill-opacity="0.82"/>
<circle cx="69.6" cy="562.9" r="2.20" fill="#1b9e77" fill-opacity="0.82"/>
<circle cx="70.8" cy="573.9" r="2.10" fill="#1b9e77" fill-opacity="0.82"/>
<circle cx="77.8" cy="587.6" r="2.20" fill="#7570b3" fill-opacity="0.82"/>
<circle cx="76.9" cy="593.1" r="2.20" fill="#7570b3" fill-opacity="0.82"/>
<polygon points="107.8,554.6 111.2,560.4 104.4,560.4" fill="#1b9e77" fill-opacity="0.82"/>
<circle cx="114.9" cy="561.5" r="2.50" fill="#1b9e77" fill-opacity="0.82"/>
<circle cx="118.5" cy="580.4" r="2.30" fill="#1b9e77" fill-opacity="0.82"/>
<circle cx="121.4" cy="584.1" r="2.30" fill="#1b9e77" fill-opacity="0.82"/>
<circle cx="137.7" cy="593.6" r="2.20" fill="#1b9e77" fill-opacity="0.82"/>
<circle cx="147.5" cy="593.6" r="2.50" fill="#1b9e77" fill-opacity="0.82"/>
<circle cx="155.5" cy="570.2" r="2.10" fill="#e7298a" fill-opacity="0.82"/>
<circle cx="166.1" cy="565.1" r="2.10" fill="#e7298a" fill-opacity="0.82"/>
<circle cx="177.9" cy="553.6" r="2.10" fill="#e7298a" fill-opacity="0.82"/>
<circle cx="174.2" cy="557.1" r="2.10" fill="#e7298a" fill-opacity="0.82"/>
<circle cx="176.4" cy="559.0" r="2.10" fill="#e7298a" fill-opacity="0.82"/>
<circle cx="181.8" cy="561.2" r="2.10" fill="#e7298a" fill-opacity="0.82"/>
<circle cx="184.9" cy="562.6" r="2.10" fill="#e7298a" fill-opacity="0.82"/>
<circle cx="202.1" cy="559.7" r="2.10" fill="#e7298a" fill-opacity="0.82"/>
<circle cx="217.5" cy="557.8" r="2.20" fill="#e7298a" fill-opacity="0.82"/>
<circle cx="227.4" cy="557.5" r="2.20" fill="#e7298a" fill-opacity="0.82"/>
<circle cx="242.3" cy="548.3" r="2.20" fill="#e7298a" fill-opacity="0.82"/>
<circle cx="165.5" cy="588.9" r="2.00" fill="#e7298a" fill-opacity="0.82"/>
<circle cx="166.6" cy="591.8" r="2.20" fill="#e7298a" fill-opacity="0.82"/>
<circle cx="254.7" cy="556.8" r="2.50" fill="#7570b3" fill-opacity="0.82"/>
<circle cx="256.6" cy="557.5" r="2.30" fill="#7570b3" fill-opacity="0.82"/>
<circle cx="266.1" cy="551.7" r="2.10" fill="#1b9e77" fill-opacity="0.82"/>
<circle cx="265.3" cy="556.4" r="2.10" fill="#1b9e77" fill-opacity="0.82"/>
<circle cx="278.4" cy="552.8" r="2.10" fill="#1b9e77" fill-opacity="0.82"/>
<circle cx="284.4" cy="549.9" r="2.20" fill="#1b9e77" fill-opacity="0.82"/>
<circle cx="283.9" cy="552.8" r="2.20" fill="#1b9e77" fill-opacity="0.82"/>
<circle cx="287.2" cy="554.2" r="2.00" fill="#1b9e77" fill-opacity="0.82"/>
<circle cx="282.5" cy="556.1" r="2.20" fill="#1b9e77" fill-opacity="0.82"/>
<circle cx="280.3" cy="558.2" r="2.20" fill="#1b9e77" fill-opacity="0.82"/>
<circle cx="279.6" cy="560.4" r="2.20" fill="#1b9e77" fill-opacity="0.82"/>
<circle cx="302.8" cy="560.0" r="2.00" fill="#1b9e77" fill-opacity="0.82"/>
<circle cx="305.0" cy="568.2" r="2.10" fill="#e7298a" fill-opacity="0.82"/>
<circle cx="308.0" cy="572.8" r="2.20" fill="#e7298a" fill-opacity="0.82"/>
<circle cx="309.0" cy="574.6" r="2.20" fill="#e7298a" fill-opacity="0.82"/>
<circle cx="311.5" cy="578.7" r="2.20" fill="#e7298a" fill-opacity="0.82"/>
<circle cx="339.6" cy="575.8" r="2.40" fill="#e7298a" fill-opacity="0.82"/>
<circle cx="341.1" cy="578.0" r="2.40" fill="#e7298a" fill-opacity="0.82"/>
<circle cx="342.8" cy="578.7" r="2.00" fill="#e7298a" fill-opacity="0.82"/>
<circle cx="345.2" cy="579.7" r="2.20" fill="#d95f02" fill-opacity="0.82"/>
<circle cx="348.0" cy="583.5" r="2.20" fill="#d95f02" fill-opacity="0.82"/>
<circle cx="352.5" cy="594.0" r="2.40" fill="#d95f02" fill-opacity="0.82"/>
<circle cx="352.1" cy="595.8" r="2.40" fill="#d95f02" fill-opacity="0.82"/>
<circle cx="349.9" cy="601.0" r="2.20" fill="#d95f02" fill-opacity="0.82"/>
<circle cx="351.1" cy="602.4" r="2.40" fill="#1b9e77" fill-opacity="0.82"/>
<circle cx="350.4" cy="603.9" r="2.20" fill="#1b9e77" fill-opacity="0.82"/>
<circle cx="343.4" cy="612.6" r="2.30" fill="#1b9e77" fill-opacity="0.82"/>
<polygon points="328.3,618.6 331.2,623.6 325.4,623.6" fill="#1b9e77" fill-opacity="0.82"/>
<polygon points="328.8,624.4 331.6,629.2 326.1,629.2" fill="#1b9e77" fill-opacity="0.82"/>
<polygon points="332.0,624.4 334.8,629.2 329.2,629.2" fill="#1b9e77" fill-opacity="0.82"/>
<circle cx="317.6" cy="616.7" r="2.20" fill="#1b9e77" fill-opacity="0.82"/>
<circle cx="319.8" cy="617.0" r="2.20" fill="#1b9e77" fill-opacity="0.82"/>
<circle cx="314.4" cy="622.1" r="2.50" fill="#e7298a" fill-opacity="0.82"/>
<circle cx="311.8" cy="628.2" r="2.10" fill="#e7298a" fill-opacity="0.82"/>
<circle cx="308.8" cy="637.0" r="2.00" fill="#e7298a" fill-opacity="0.82"/>
<circle cx="241.0" cy="611.9" r="2.20" fill="#d95f02" fill-opacity="0.82"/>
<circle cx="251.2" cy="612.6" r="2.20" fill="#d95f02" fill-opacity="0.82"/>
<circle cx="258.9" cy="625.8" r="2.20" fill="#e7298a" fill-opacity="0.82"/>
<circle cx="268.4" cy="638.9" r="2.50" fill="#e7298a" fill-opacity="0.82"/>
<polygon points="284.4,641.0 287.4,646.2 281.4,646.2" fill="#e7298a" fill-opacity="0.82"/>
<circle cx="284.3" cy="640.1" r="3.40" fill="#e7298a" fill-opacity="0.82"/>
<circle cx="294.9" cy="643.8" r="2.10" fill="#e7298a" fill-opacity="0.82"/>
<circle cx="76.0" cy="601.2" r="2.30" fill="#e7298a" fill-opacity="0.82"/>
<polygon points="77.7,606.2 80.7,611.4 74.8,611.4" fill="#e7298a" fill-opacity="0.82"/>
<circle cx="79.2" cy="615.8" r="2.20" fill="#e7298a" fill-opacity="0.82"/>
<circle cx="89.4" cy="612.2" r="2.20" fill="#e7298a" fill-opacity="0.82"/>
<circle cx="91.2" cy="612.2" r="2.20" fill="#e7298a" fill-opacity="0.82"/>
<circle cx="93.0" cy="612.2" r="2.20" fill="#e7298a" fill-opacity="0.82"/>
<circle cx="94.4" cy="612.2" r="2.10" fill="#e7298a" fill-opacity="0.82"/>
<circle cx="98.9" cy="629.4" r="2.20" fill="#e7298a" fill-opacity="0.82"/>
<circle cx="105.5" cy="629.4" r="1.90" fill="#1b9e77" fill-opacity="0.82"/>
<circle cx="146.1" cy="617.0" r="2.30" fill="#1b9e77" fill-opacity="0.82"/>
<circle cx="140.8" cy="621.7" r="2.20" fill="#1b9e77" fill-opacity="0.82"/>
<circle cx="135.7" cy="626.8" r="2.20" fill="#1b9e77" fill-opacity="0.82"/>
<circle cx="127.1" cy="632.6" r="2.00" fill="#1b9e77" fill-opacity="0.82"/>
<circle cx="132.2" cy="635.5" r="2.00" fill="#1b9e77" fill-opacity="0.82"/>
<circle cx="139.8" cy="637.0" r="2.00" fill="#1b9e77" fill-opacity="0.82"/>
<circle cx="148.6" cy="639.4" r="2.20" fill="#1b9e77" fill-opacity="0.82"/>
<circle cx="157.2" cy="640.9" r="2.40" fill="#7570b3" fill-opacity="0.82"/>
<circle cx="160.1" cy="598.2" r="2.40" fill="#d95f02" fill-opacity="0.82"/>
<circle cx="160.1" cy="600.3" r="2.30" fill="#d95f02" fill-opacity="0.82"/>
<circle cx="160.1" cy="601.9" r="2.20" fill="#d95f02" fill-opacity="0.82"/>
<polygon points="160.1,600.8 163.1,606.0 157.1,606.0" fill="#d95f02" fill-opacity="0.82"/>
<circle cx="159.3" cy="607.8" r="2.40" fill="#1b9e77" fill-opacity="0.82"/>
<circle cx="175.3" cy="641.9" r="4.70" fill="#7570b3" fill-opacity="0.82"/>
<circle cx="173.9" cy="640.8" r="4.00" fill="#7570b3" fill-opacity="0.82"/>
<circle cx="169.3" cy="649.0" r="3.70" fill="#7570b3" fill-opacity="0.82"/>
<circle cx="220.0" cy="626.8" r="2.00" fill="#d95f02" fill-opacity="0.82"/>
<circle cx="210.4" cy="637.8" r="2.10" fill="#d95f02" fill-opacity="0.82"/>
<polygon points="199.7,646.8 203.0,652.6 196.3,652.6" fill="#d95f02" fill-opacity="0.82"/>
<circle cx="199.4" cy="655.5" r="2.40" fill="#d95f02" fill-opacity="0.82"/>
<circle cx="192.2" cy="658.5" r="2.80" fill="#d95f02" fill-opacity="0.82"/>
<circle cx="183.8" cy="666.9" r="2.20" fill="#d95f02" fill-opacity="0.82"/>
<circle cx="181.8" cy="671.2" r="3.50" fill="#7570b3" fill-opacity="0.82"/>
<circle cx="189.1" cy="673.8" r="2.20" fill="#e7298a" fill-opacity="0.82"/>
<circle cx="194.6" cy="678.4" r="6.00" fill="#7570b3" fill-opacity="0.82"/>
<circle cx="197.5" cy="679.6" r="5.00" fill="#7570b3" fill-opacity="0.82"/>
<circle cx="202.9" cy="676.4" r="2.40" fill="#7570b3" fill-opacity="0.82"/>
<circle cx="268.3" cy="638.8" r="2.50" fill="#e7298a" fill-opacity="0.82"/>
</g>
<rect x="22.4" y="490.0" width="493.6" height="214.2" fill="none" stroke="#333" stroke-width="1.1"/>
<line x1="20.0" y1="540.9" x2="22.4" y2="540.9" stroke="#333" stroke-width="0.9"/>
<text x="18.4" y="543.8" font-size="8.2" text-anchor="end" fill="#4d4d4d">50</text>
<line x1="20.0" y1="601.5" x2="22.4" y2="601.5" stroke="#333" stroke-width="0.9"/>
<text x="18.4" y="604.4" font-size="8.2" text-anchor="end" fill="#4d4d4d">0</text>
<line x1="20.0" y1="662.1" x2="22.4" y2="662.1" stroke="#333" stroke-width="0.9"/>
<text x="18.4" y="665.0" font-size="8.2" text-anchor="end" fill="#4d4d4d">-50</text>
<text x="267.7" y="485.7" font-size="10.5" font-weight="bold" text-anchor="middle" fill="#111">Deep chlorophyll maximum</text>
<text transform="translate(8.0,602.0) rotate(-90)" font-size="8.6" text-anchor="middle" fill="#111">Latitude</text>
<line x1="141.4" y1="704.2" x2="141.4" y2="706.6" stroke="#333" stroke-width="0.9"/>
<text x="141.4" y="716.0" font-size="8.2" text-anchor="middle" fill="#4d4d4d">-100</text>
<line x1="262.6" y1="704.2" x2="262.6" y2="706.6" stroke="#333" stroke-width="0.9"/>
<text x="262.6" y="716.0" font-size="8.2" text-anchor="middle" fill="#4d4d4d">0</text>
<line x1="383.8" y1="704.2" x2="383.8" y2="706.6" stroke="#333" stroke-width="0.9"/>
<text x="383.8" y="716.0" font-size="8.2" text-anchor="middle" fill="#4d4d4d">100</text>
<text x="263.1" y="724.6" font-size="8.6" text-anchor="middle" fill="#111">Longitude</text>
<rect x="529.5" y="442.6" width="152.6" height="69.7" fill="#fff" stroke="#333" stroke-width="0.9"/>
<text x="535.3" y="454.9" font-size="10.4" font-weight="bold" fill="#111">Season</text>
<circle cx="538.8" cy="463.70" r="4.0" fill="#d95f02"/>
<text x="546.3" y="466.90" font-size="9.5" fill="#222">Spring</text>
<circle cx="538.8" cy="476.87" r="4.0" fill="#7570b3"/>
<text x="546.3" y="480.07" font-size="9.5" fill="#222">Summer</text>
<circle cx="538.8" cy="490.04" r="4.0" fill="#1b9e77"/>
<text x="546.3" y="493.24" font-size="9.5" fill="#222">Autumn</text>
<circle cx="538.8" cy="503.21" r="4.0" fill="#e7298a"/>
<text x="546.3" y="506.41" font-size="9.5" fill="#222">Winter</text>
<text x="590.2" y="454.9" font-size="10.4" font-weight="bold" fill="#111">Chl. a</text>
<circle cx="600.4" cy="466.00" r="3.50" fill="#333"/>
<text x="610.2" y="469.40" font-size="9.5" fill="#222">2</text>
<circle cx="600.4" cy="482.80" r="4.90" fill="#333"/>
<text x="610.2" y="486.20" font-size="9.5" fill="#222">5</text>
<circle cx="600.4" cy="499.50" r="6.30" fill="#333"/>
<text x="610.2" y="502.90" font-size="9.5" fill="#222">8</text>
<text x="653.0" y="454.9" font-size="10.4" font-weight="bold" text-anchor="middle" fill="#111">Sex</text>
<text x="653.0" y="467.8" font-size="10.4" font-weight="bold" text-anchor="middle" fill="#111">signal</text>
<circle cx="644.4" cy="482.0" r="3.4" fill="#000"/>
<text x="653.4" y="485.8" font-size="9.5" fill="#222">No</text>
<polygon points="644.7,493.8 649.4,501.5 640.0,501.5" fill="#000"/>
<text x="653.4" y="500.8" font-size="9.5" fill="#222">Yes</text>
</svg></body></html>
